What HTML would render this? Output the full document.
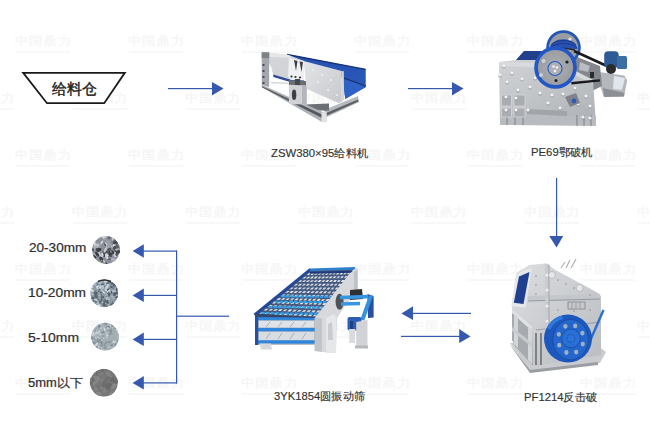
<!DOCTYPE html>
<html><head><meta charset="utf-8">
<style>
html,body{margin:0;padding:0;background:#fff;}
body{width:650px;height:430px;position:relative;overflow:hidden;font-family:"Liberation Sans",sans-serif;color:#333;}
.t{position:absolute;white-space:nowrap;line-height:1;transform-origin:0 0;}
.lbl{font-size:11px;color:#333;-webkit-text-stroke:0.15px #333;}
.sz{font-size:12px;color:#2e2e2e;-webkit-text-stroke:0.2px #2e2e2e;}
svg{position:absolute;left:0;top:0;}
.wm{position:absolute;font-size:13px;line-height:1;font-weight:bold;color:#f6f6f6;white-space:nowrap;letter-spacing:1.2px;z-index:0;transform:scaleY(0.9);transform-origin:0 0;}
.wms{position:absolute;width:54px;height:2px;background:#f8f8f8;z-index:0;}
svg{z-index:1;}
.t{z-index:2;}
</style></head><body>
<div class="wm" style="left:15.0px;top:34.5px;">中国鼎力</div><div class="wms" style="left:16.0px;top:51.0px;"></div>
<div class="wm" style="left:128.0px;top:34.5px;">中国鼎力</div><div class="wms" style="left:129.0px;top:51.0px;"></div>
<div class="wm" style="left:241.0px;top:34.5px;">中国鼎力</div><div class="wms" style="left:242.0px;top:51.0px;"></div>
<div class="wm" style="left:354.0px;top:34.5px;">中国鼎力</div><div class="wms" style="left:355.0px;top:51.0px;"></div>
<div class="wm" style="left:467.0px;top:34.5px;">中国鼎力</div><div class="wms" style="left:468.0px;top:51.0px;"></div>
<div class="wm" style="left:580.0px;top:34.5px;">中国鼎力</div><div class="wms" style="left:581.0px;top:51.0px;"></div>
<div class="wm" style="left:-41.5px;top:91.5px;">中国鼎力</div><div class="wms" style="left:-40.5px;top:108.0px;"></div>
<div class="wm" style="left:71.5px;top:91.5px;">中国鼎力</div><div class="wms" style="left:72.5px;top:108.0px;"></div>
<div class="wm" style="left:184.5px;top:91.5px;">中国鼎力</div><div class="wms" style="left:185.5px;top:108.0px;"></div>
<div class="wm" style="left:297.5px;top:91.5px;">中国鼎力</div><div class="wms" style="left:298.5px;top:108.0px;"></div>
<div class="wm" style="left:410.5px;top:91.5px;">中国鼎力</div><div class="wms" style="left:411.5px;top:108.0px;"></div>
<div class="wm" style="left:523.5px;top:91.5px;">中国鼎力</div><div class="wms" style="left:524.5px;top:108.0px;"></div>
<div class="wm" style="left:636.5px;top:91.5px;">中国鼎力</div><div class="wms" style="left:637.5px;top:108.0px;"></div>
<div class="wm" style="left:15.0px;top:148.5px;">中国鼎力</div><div class="wms" style="left:16.0px;top:165.0px;"></div>
<div class="wm" style="left:128.0px;top:148.5px;">中国鼎力</div><div class="wms" style="left:129.0px;top:165.0px;"></div>
<div class="wm" style="left:241.0px;top:148.5px;">中国鼎力</div><div class="wms" style="left:242.0px;top:165.0px;"></div>
<div class="wm" style="left:354.0px;top:148.5px;">中国鼎力</div><div class="wms" style="left:355.0px;top:165.0px;"></div>
<div class="wm" style="left:467.0px;top:148.5px;">中国鼎力</div><div class="wms" style="left:468.0px;top:165.0px;"></div>
<div class="wm" style="left:580.0px;top:148.5px;">中国鼎力</div><div class="wms" style="left:581.0px;top:165.0px;"></div>
<div class="wm" style="left:-41.5px;top:205.5px;">中国鼎力</div><div class="wms" style="left:-40.5px;top:222.0px;"></div>
<div class="wm" style="left:71.5px;top:205.5px;">中国鼎力</div><div class="wms" style="left:72.5px;top:222.0px;"></div>
<div class="wm" style="left:184.5px;top:205.5px;">中国鼎力</div><div class="wms" style="left:185.5px;top:222.0px;"></div>
<div class="wm" style="left:297.5px;top:205.5px;">中国鼎力</div><div class="wms" style="left:298.5px;top:222.0px;"></div>
<div class="wm" style="left:410.5px;top:205.5px;">中国鼎力</div><div class="wms" style="left:411.5px;top:222.0px;"></div>
<div class="wm" style="left:523.5px;top:205.5px;">中国鼎力</div><div class="wms" style="left:524.5px;top:222.0px;"></div>
<div class="wm" style="left:636.5px;top:205.5px;">中国鼎力</div><div class="wms" style="left:637.5px;top:222.0px;"></div>
<div class="wm" style="left:15.0px;top:262.5px;">中国鼎力</div><div class="wms" style="left:16.0px;top:279.0px;"></div>
<div class="wm" style="left:128.0px;top:262.5px;">中国鼎力</div><div class="wms" style="left:129.0px;top:279.0px;"></div>
<div class="wm" style="left:241.0px;top:262.5px;">中国鼎力</div><div class="wms" style="left:242.0px;top:279.0px;"></div>
<div class="wm" style="left:354.0px;top:262.5px;">中国鼎力</div><div class="wms" style="left:355.0px;top:279.0px;"></div>
<div class="wm" style="left:467.0px;top:262.5px;">中国鼎力</div><div class="wms" style="left:468.0px;top:279.0px;"></div>
<div class="wm" style="left:580.0px;top:262.5px;">中国鼎力</div><div class="wms" style="left:581.0px;top:279.0px;"></div>
<div class="wm" style="left:-41.5px;top:319.5px;">中国鼎力</div><div class="wms" style="left:-40.5px;top:336.0px;"></div>
<div class="wm" style="left:71.5px;top:319.5px;">中国鼎力</div><div class="wms" style="left:72.5px;top:336.0px;"></div>
<div class="wm" style="left:184.5px;top:319.5px;">中国鼎力</div><div class="wms" style="left:185.5px;top:336.0px;"></div>
<div class="wm" style="left:297.5px;top:319.5px;">中国鼎力</div><div class="wms" style="left:298.5px;top:336.0px;"></div>
<div class="wm" style="left:410.5px;top:319.5px;">中国鼎力</div><div class="wms" style="left:411.5px;top:336.0px;"></div>
<div class="wm" style="left:523.5px;top:319.5px;">中国鼎力</div><div class="wms" style="left:524.5px;top:336.0px;"></div>
<div class="wm" style="left:636.5px;top:319.5px;">中国鼎力</div><div class="wms" style="left:637.5px;top:336.0px;"></div>
<div class="wm" style="left:15.0px;top:376.5px;">中国鼎力</div><div class="wms" style="left:16.0px;top:393.0px;"></div>
<div class="wm" style="left:128.0px;top:376.5px;">中国鼎力</div><div class="wms" style="left:129.0px;top:393.0px;"></div>
<div class="wm" style="left:241.0px;top:376.5px;">中国鼎力</div><div class="wms" style="left:242.0px;top:393.0px;"></div>
<div class="wm" style="left:354.0px;top:376.5px;">中国鼎力</div><div class="wms" style="left:355.0px;top:393.0px;"></div>
<div class="wm" style="left:467.0px;top:376.5px;">中国鼎力</div><div class="wms" style="left:468.0px;top:393.0px;"></div>
<div class="wm" style="left:580.0px;top:376.5px;">中国鼎力</div><div class="wms" style="left:581.0px;top:393.0px;"></div>
<svg width="650" height="430" viewBox="0 0 650 430">
  <!-- hopper -->
  <polygon points="23.2,72.8 124.8,72.8 104.2,103.2 47,103.2" fill="#fff" stroke="#1a1a1a" stroke-width="1.8"/>
  <g fill="#3658ae" stroke="none">
    <!-- arrow 1 -->
    <rect x="168" y="88" width="45" height="1.2"/>
    <polygon points="212,82 223.5,88.6 212,95.6"/>
    <!-- arrow 2 -->
    <rect x="408" y="88" width="45" height="1.2"/>
    <polygon points="452,82 463.5,88.6 452,95.6"/>
    <!-- down arrow -->
    <rect x="556" y="178" width="1.2" height="59"/>
    <polygon points="549.2,236 563.2,236 556.6,247.5"/>
    <!-- left arrow -->
    <rect x="412" y="312.8" width="59" height="1.2"/>
    <polygon points="401.4,313.4 413,306.2 413,320"/>
    <!-- right arrow -->
    <rect x="401" y="335.8" width="59" height="1.2"/>
    <polygon points="459.2,329 470.5,336.4 459.2,343"/>
    <!-- bracket -->
    <rect x="176" y="250.5" width="1.2" height="133"/>
    <rect x="176" y="315.6" width="53" height="1.2"/>
    <rect x="143" y="250.5" width="34" height="1.2"/>
    <rect x="143" y="294.8" width="34" height="1.2"/>
    <rect x="143" y="338.8" width="34" height="1.2"/>
    <rect x="143" y="382.3" width="34" height="1.2"/>
    <polygon points="132.6,251.1 143.8,244.3 143.8,257.7"/>
    <polygon points="132.6,295.4 143.8,288.6 143.8,302"/>
    <polygon points="132.6,339.4 143.8,332.6 143.8,346"/>
    <polygon points="132.6,382.9 143.8,376.1 143.8,389.5"/>
  </g>

  <!-- FEEDER -->
  <g id="feeder">
    <defs>
      <linearGradient id="fplate" x1="0" y1="0" x2="1" y2="1">
        <stop offset="0" stop-color="#e4e5e7"/><stop offset="1" stop-color="#c6c8cc"/>
      </linearGradient>
      <linearGradient id="fblue" x1="0" y1="0" x2="0" y2="1">
        <stop offset="0" stop-color="#2550ad"/><stop offset="1" stop-color="#2c5dc2"/>
      </linearGradient>
    </defs>
    <!-- rear beam -->
    <polygon points="324,110 358,96 359,102 327,117" fill="#b6b9bd"/>
    <polygon points="326,113 358,99.5 358.5,101.5 327,115.5" fill="#5f6267"/>
    <polygon points="305,104.5 329,103.5 329,110.7 306,110" fill="#6c6f74"/>
    <!-- blue trough -->
    <polygon points="287,54.3 365.7,69.2 365.8,86.9 345.2,99 343,78 300,63" fill="url(#fblue)"/>
    <polygon points="343,79 365.7,85 365.8,86.9 345.2,99" fill="#2e62c4"/><line x1="344" y1="78" x2="365.5" y2="86" stroke="#1a2f66" stroke-width="1.3"/>
    <line x1="287" y1="54.5" x2="365.7" y2="69.4" stroke="#16337a" stroke-width="1.4"/>
    <!-- inner rod -->
    <line x1="271" y1="82.4" x2="290" y2="83.6" stroke="#d6d8db" stroke-width="1.5"/>
    <!-- left plate -->
    <polygon points="265.4,52.2 288.7,55 304,61 304,80 290,80 273.3,75 271,66.6 266,58" fill="#d2d4d7"/>
    <polygon points="266,52.2 288.7,55 292,58 269,57" fill="#e6e7e9"/>
    <polygon points="273.3,74.5 290,79.5 304,80.5 304,82.5 290,82 273.3,77" fill="#2c4d96"/>
    <!-- left post -->
    <polygon points="261.7,52.2 269.2,52.6 269.2,87 261.8,85" fill="#a3a6ab"/>
    <polygon points="261.7,52.2 269.2,52.6 269.2,58 261.7,58" fill="#7f8287"/>
    <g fill="#4a4d52"><rect x="262.5" y="64" width="2" height="2"/><rect x="262.5" y="70" width="2" height="2"/><rect x="262.5" y="76" width="2" height="2"/><rect x="262.5" y="82" width="2" height="2"/></g>
    <!-- brackets -->
    <polygon points="289,58 304,61 304,80 291,80 288,76" fill="#eef0f2"/>
    <polygon points="294,60 297.5,61 296,71" fill="#3c3f44"/>
    <polygon points="299.5,61.5 303,62 301.5,72" fill="#3c3f44"/>
    <circle cx="291.5" cy="76.5" r="1.1" fill="#333"/><circle cx="295.5" cy="77" r="1.1" fill="#333"/><circle cx="300" cy="77.5" r="1.1" fill="#333"/>
    <!-- front beam -->
    <polygon points="261.8,84.8 323.9,112.5 326.4,112 326.4,122 321.5,121.8 261.8,87.3" fill="#aeb1b5"/>
    <polygon points="262,86.2 322,114.5 322,118 262,87.3" fill="#56595e"/>
    <polygon points="321.5,112.5 326.4,112 326.4,122 321.5,121.8" fill="#e2e3e5"/>
    <!-- pillar -->
    <polygon points="289,80 306.7,81 306.7,86.5 289,86" fill="#6a6d72"/><rect x="295" y="79" width="5" height="7" fill="#45484d"/>
    <polygon points="288.8,84.8 306.7,85.5 306.7,104.5 289,104" fill="#d0d2d5"/>
    <polygon points="302,85.5 306.7,85.5 306.7,104.5 302,104.3" fill="#b3b6ba"/>
    <ellipse cx="294.1" cy="94.7" rx="2.2" ry="5.3" fill="#3c3f44"/>
    <!-- side plate -->
    <polygon points="303.6,61 341.7,70.9 341.7,102 338.5,102.9 306.7,89" fill="url(#fplate)"/>
    <polygon points="341.7,70.9 343.8,71.3 344,99.5 341.7,102" fill="#d3d5d8"/>
    <g fill="#f4f4f5"><circle cx="313" cy="70" r="0.9"/><circle cx="322" cy="75" r="0.9"/><circle cx="331" cy="80" r="0.9"/><circle cx="318" cy="82" r="0.9"/><circle cx="328" cy="90" r="0.9"/><circle cx="337" cy="95" r="0.9"/></g>
  </g>
  <!-- JAW CRUSHER -->
  <g id="jaw">
    <defs>
      <linearGradient id="jbody" x1="0" y1="0" x2="0.6" y2="1">
        <stop offset="0" stop-color="#d3d5d8"/><stop offset="0.6" stop-color="#c2c5c8"/><stop offset="1" stop-color="#b2b5b9"/>
      </linearGradient>
      <radialGradient id="jfly" cx="0.5" cy="0.5" r="0.5">
        <stop offset="0" stop-color="#adafb2"/><stop offset="1" stop-color="#9a9da1"/>
      </radialGradient>
    </defs>
    <!-- motor base -->
    <polygon points="598.6,72 624.4,75.6 627.2,80.4 624,96.5 604,97 600,86" fill="#b4b7bb"/>
    <polygon points="603,88 624.5,93 624,96.5 604,97" fill="#8c9095"/>
    <polygon points="614,76 625,78 622,90 613,89" fill="#dfe6ee"/>
    <!-- structure between flywheel and motor -->
    <polygon points="572,55 600,66 602,86 590,92 575,85" fill="#84878c"/>
    <rect x="582" y="66" width="5" height="5" fill="#2b2c2f"/><rect x="590" y="72" width="4" height="6" fill="#2b2c2f"/>
    <polygon points="580,62 590,66 588,72 579,70" fill="#b9bcc0"/>
    <!-- body -->
    <polygon points="499,62 516,60 524,51 545,51 548,60 577,72 593,80 596,125 500,124.5" fill="url(#jbody)"/>
    <polygon points="516,60 524,51 545,51 548,60" fill="#22408e"/>
    <polygon points="499,62 560,63 593,80 593,84 560,68 499,66" fill="#d9dadd"/>
    <!-- lower ribs area -->
    <polygon points="500,114 596,116 596,126 500,125" fill="#b8bbbf"/>
    <g stroke="#7e8186" stroke-width="1">
      <line x1="507" y1="113" x2="507" y2="125"/><line x1="515" y1="113" x2="515" y2="125"/><line x1="523" y1="114" x2="523" y2="125"/>
      <line x1="577" y1="115" x2="577" y2="126"/><line x1="584" y1="115" x2="584" y2="126"/><line x1="591" y1="115" x2="591" y2="126"/>
    </g>
    <polygon points="527,109 567,111 567,116 527,114" fill="#a1a4a8"/>
    <g fill="#a9acb0" stroke="#d6d8da" stroke-width="0.8">
      <rect x="501.5" y="95" width="10" height="11"/><rect x="514" y="95" width="11" height="11"/>
      <rect x="501.5" y="108" width="10" height="9"/><rect x="514" y="108" width="11" height="9"/>
    </g>
    <g><circle cx="504" cy="66.7" r="1.7" fill="#8e9195"/><circle cx="504" cy="66" r="1.6" fill="#f4f4f5"/><circle cx="512" cy="73.7" r="1.7" fill="#8e9195"/><circle cx="512" cy="73" r="1.6" fill="#f4f4f5"/><circle cx="522" cy="79.7" r="1.7" fill="#8e9195"/><circle cx="522" cy="79" r="1.6" fill="#f4f4f5"/><circle cx="507" cy="82.7" r="1.7" fill="#8e9195"/><circle cx="507" cy="82" r="1.6" fill="#f4f4f5"/><circle cx="530" cy="87.7" r="1.7" fill="#8e9195"/><circle cx="530" cy="87" r="1.6" fill="#f4f4f5"/><circle cx="518" cy="90.7" r="1.7" fill="#8e9195"/><circle cx="518" cy="90" r="1.6" fill="#f4f4f5"/><circle cx="540" cy="93.7" r="1.7" fill="#8e9195"/><circle cx="540" cy="93" r="1.6" fill="#f4f4f5"/><circle cx="552" cy="95.7" r="1.7" fill="#8e9195"/><circle cx="552" cy="95" r="1.6" fill="#f4f4f5"/><circle cx="563" cy="94.7" r="1.7" fill="#8e9195"/><circle cx="563" cy="94" r="1.6" fill="#f4f4f5"/><circle cx="575" cy="88.7" r="1.7" fill="#8e9195"/><circle cx="575" cy="88" r="1.6" fill="#f4f4f5"/><circle cx="586" cy="96.7" r="1.7" fill="#8e9195"/><circle cx="586" cy="96" r="1.6" fill="#f4f4f5"/><circle cx="590" cy="106.7" r="1.7" fill="#8e9195"/><circle cx="590" cy="106" r="1.6" fill="#f4f4f5"/><circle cx="578" cy="104.7" r="1.7" fill="#8e9195"/><circle cx="578" cy="104" r="1.6" fill="#f4f4f5"/><circle cx="506" cy="97.7" r="1.7" fill="#8e9195"/><circle cx="506" cy="97" r="1.6" fill="#f4f4f5"/><circle cx="516" cy="98.7" r="1.7" fill="#8e9195"/><circle cx="516" cy="98" r="1.6" fill="#f4f4f5"/><circle cx="506" cy="110.7" r="1.7" fill="#8e9195"/><circle cx="506" cy="110" r="1.6" fill="#f4f4f5"/><circle cx="516" cy="110.7" r="1.7" fill="#8e9195"/><circle cx="516" cy="110" r="1.6" fill="#f4f4f5"/><circle cx="528" cy="110.7" r="1.7" fill="#8e9195"/><circle cx="528" cy="110" r="1.6" fill="#f4f4f5"/><circle cx="548" cy="103.7" r="1.7" fill="#8e9195"/><circle cx="548" cy="103" r="1.6" fill="#f4f4f5"/><circle cx="560" cy="108.7" r="1.7" fill="#8e9195"/><circle cx="560" cy="108" r="1.6" fill="#f4f4f5"/><circle cx="583" cy="117.7" r="1.7" fill="#8e9195"/><circle cx="583" cy="117" r="1.6" fill="#f4f4f5"/><circle cx="590" cy="118.7" r="1.7" fill="#8e9195"/><circle cx="590" cy="118" r="1.6" fill="#f4f4f5"/><circle cx="535" cy="78.7" r="1.7" fill="#8e9195"/><circle cx="535" cy="78" r="1.6" fill="#f4f4f5"/><circle cx="500" cy="75.7" r="1.7" fill="#8e9195"/><circle cx="500" cy="75" r="1.6" fill="#f4f4f5"/></g>
    <polygon points="565,97 576,93 580,103 570,107" fill="#7f8388"/>
    <circle cx="574" cy="101" r="2.4" fill="#2a5bc0"/>
    <!-- rear flywheel -->
    <circle cx="563.5" cy="47.5" r="17.3" fill="#2456b8"/>
    <circle cx="563.5" cy="47.5" r="14.5" fill="#9a9da2"/>
    <path d="M549.5,49 C551,36 576,36 577.5,49 Z" fill="#2a50b2"/><path d="M551,45 C556,39 571,39 576,45 M550,48 C555,42 572,42 577,48" stroke="#183a8c" stroke-width="1" fill="none"/>
    <circle cx="570" cy="39" r="1.6" fill="#e8e8ea"/>
    <!-- belts -->
    <path d="M574,51 L606.3,65.8" stroke="#1b1b1d" stroke-width="2.6" fill="none"/>
    <path d="M571.4,83.2 L600,80.4" stroke="#1b1b1d" stroke-width="2.4" fill="none"/>
    <path d="M536,58 Q552,44 575,50" stroke="#2a2a2c" stroke-width="1.4" fill="none"/>
    <!-- motor -->
    <rect x="604.2" y="51.2" width="14.5" height="16.5" rx="4" fill="#2e5b95"/>
    <rect x="617" y="56" width="10" height="13" rx="1.5" fill="#3b6fa3"/>
    <circle cx="611" cy="69" r="5" fill="#2a2b2e"/>
    <!-- front flywheel -->
    <circle cx="555.5" cy="67.5" r="21.3" fill="#2257c6"/>
    <circle cx="555.5" cy="67.5" r="17.6" fill="url(#jfly)"/>
    <circle cx="555" cy="68.5" r="7" fill="#aeb0b3" stroke="#2257c6" stroke-width="1.1"/>
    <circle cx="553.5" cy="66.5" r="1.3" fill="#f2f2f2"/><circle cx="557" cy="67.5" r="1.3" fill="#f2f2f2"/><circle cx="555" cy="71" r="1.3" fill="#f2f2f2"/>
    <circle cx="543.5" cy="61" r="2.5" fill="#cfd0d2" stroke="#8a8d91" stroke-width="0.6"/>
    <circle cx="541" cy="75" r="2" fill="#cfd0d2"/><circle cx="567" cy="62" r="1.6" fill="#1d1d1f"/><circle cx="556" cy="80.5" r="1.5" fill="#1d1d1f"/>
  </g>
  <!-- IMPACT CRUSHER -->
  <g id="impact">
    <defs>
      <linearGradient id="ibody" x1="0" y1="0" x2="1" y2="1">
        <stop offset="0" stop-color="#dcdee0"/><stop offset="1" stop-color="#b9bcc0"/>
      </linearGradient>
      <radialGradient id="ifly" cx="0.55" cy="0.5" r="0.5">
        <stop offset="0" stop-color="#3a88e2"/><stop offset="1" stop-color="#2468cc"/>
      </radialGradient>
    </defs>
    <!-- base -->
    <polygon points="510,343 530,371 600,363 606,352 590,340" fill="#c9cbce"/>
    <polygon points="512,347 530,370 598,362 598,365 530,373 510,345" fill="#9a9da1"/>
    <!-- body -->
    <polygon points="512,307 516,273 529.5,265 546.5,263.2 554.2,269.3 597.3,292.4 601,296 601,355 535,366 515,345" fill="url(#ibody)"/>
    <polygon points="512,309 532,329 533,366 515,346 512,340" fill="#a7aaae"/>
    <polygon points="512,309 532,327 532,331 512,313" fill="#e2e3e5"/>
    <polygon points="514,313 518,317 518,348 514,344" fill="#d3d5d8"/>
    <polygon points="528,326 532,329 532,364 528,360" fill="#d3d5d8"/>
    <polygon points="512,327 532,343 532,347 512,331" fill="#c9cbce"/>
    <g fill="#7d8085"><rect x="535" y="333" width="2" height="32"/><rect x="540" y="333" width="2" height="32"/></g>
    <polygon points="528,296 600,294 600,299 528,301" fill="#c4c7cb"/>
    <line x1="528" y1="301" x2="600" y2="299" stroke="#8e9196" stroke-width="0.9"/>
    <line x1="536" y1="330" x2="600" y2="322" stroke="#9b9ea2" stroke-width="1"/>
    <rect x="545" y="264" width="4" height="80" fill="#c9cbce"/>
    <line x1="549" y1="265" x2="549" y2="344" stroke="#9a9da1" stroke-width="0.8"/>
    <g fill="#eeeff0">
      <circle cx="547" cy="275" r="1.6"/><circle cx="547" cy="290" r="1.6"/><circle cx="547" cy="306" r="1.6"/><circle cx="547" cy="321" r="1.6"/>
    </g>
    <g fill="#8f9297">
      <circle cx="536" cy="276" r="0.8"/><circle cx="536" cy="285" r="0.8"/><circle cx="536" cy="294" r="0.8"/>
      <circle cx="558" cy="280" r="0.8"/><circle cx="566" cy="284" r="0.8"/><circle cx="574" cy="288" r="0.8"/><circle cx="590" cy="295" r="0.8"/>
      <circle cx="558" cy="310" r="0.8"/><circle cx="574" cy="311" r="0.8"/><circle cx="590" cy="310" r="0.8"/>
    </g>
    <circle cx="579.6" cy="288" r="3.5" fill="#e6e7e9" stroke="#a3a6aa" stroke-width="0.6"/>
    <rect x="568" y="302" width="17" height="7" fill="#c6c8cb" stroke="#7f8287" stroke-width="0.8"/>
    <g stroke="#8a8d91" stroke-width="0.7"><line x1="572" y1="303" x2="572" y2="308"/><line x1="576" y1="303" x2="576" y2="308"/><line x1="580" y1="303" x2="580" y2="308"/></g>
    <path d="M561,268 L565,262 M566,268 L570,260 M571,268 L576,259" stroke="#a9acb0" stroke-width="1.1" fill="none"/><circle cx="552" cy="275" r="3.5" fill="#e6e7e9" stroke="#a3a6aa" stroke-width="0.6"/>
    <!-- window -->
    <polygon points="516.4,273.6 531.9,267.9 525.4,307.8 511.2,306.2" fill="#e6e7e9"/>
    <polygon points="519,276.5 529.5,272 523.5,304 513.8,302.8" fill="#1f3f8f"/>
    <!-- arm -->
    <line x1="590" y1="341" x2="603.5" y2="310" stroke="#2a6fd0" stroke-width="2.4"/>
    <!-- flywheel -->
    <circle cx="568" cy="338.6" r="24" fill="#1c58bd"/>
    <path d="M547,328 A23,23 0 0 1 562,315.5 L563,319 A20,20 0 0 0 550,330 Z" fill="#2f78dc"/>
    <ellipse cx="570.6" cy="339.6" rx="17.8" ry="20.2" fill="#2466cc" stroke="#1a4ea6" stroke-width="1"/>
    <ellipse cx="582.8" cy="344.1" rx="2.1" ry="2.4" fill="#9fb0c4"/><ellipse cx="576.2" cy="352.1" rx="2.1" ry="2.4" fill="#9fb0c4"/><ellipse cx="566.4" cy="352.5" rx="2.1" ry="2.4" fill="#9fb0c4"/><ellipse cx="559.2" cy="345.2" rx="2.1" ry="2.4" fill="#9fb0c4"/><ellipse cx="558.8" cy="334.3" rx="2.1" ry="2.4" fill="#9fb0c4"/><ellipse cx="565.4" cy="326.3" rx="2.1" ry="2.4" fill="#9fb0c4"/><ellipse cx="575.2" cy="325.9" rx="2.1" ry="2.4" fill="#9fb0c4"/><ellipse cx="582.4" cy="333.2" rx="2.1" ry="2.4" fill="#9fb0c4"/>
    <circle cx="571" cy="338.3" r="9.4" fill="#2a6fd6" stroke="#1a4ea6" stroke-width="0.9"/>
    <circle cx="571" cy="338.3" r="4" fill="#2d74da" stroke="#1d55b0" stroke-width="0.7"/>
  </g>
  </g>
  </g>

  <!-- VIBRATING SCREEN -->
  <g id="screen">
    <!-- lower decks -->
    <polygon points="256,314 316,318 316,345 256,345" fill="#b9c0c9"/>
    <polygon points="259,321 314,321 314,327.5 259,327.5" fill="#dfe2e6"/>
    <polygon points="259,332 314,332 314,340 259,340" fill="#d9dce0"/>
    <g stroke="#9aa3ae" stroke-width="0.8">
      <line x1="270" y1="322" x2="266" y2="327"/><line x1="282" y1="322" x2="278" y2="327"/><line x1="294" y1="322" x2="290" y2="327"/><line x1="306" y1="322" x2="302" y2="327"/>
      <line x1="270" y1="333" x2="266" y2="339"/><line x1="282" y1="333" x2="278" y2="339"/><line x1="294" y1="333" x2="290" y2="339"/><line x1="306" y1="333" x2="302" y2="339"/>
    </g>
    <rect x="255.5" y="316.8" width="59" height="3.4" fill="#2f86da"/>
    <rect x="256" y="327.9" width="59" height="3.4" fill="#2f86da"/>
    <rect x="256" y="340.3" width="59" height="3.4" fill="#2f86da"/>
    <rect x="255" y="313" width="3.2" height="32" fill="#27509e"/>
    <polygon points="259.7,343.5 270.8,343.5 272,349.5 261,349.5" fill="#d6d8db"/>
    <!-- top deck -->
    <polygon points="310.5,269.8 354,268.5 315.5,318 255.5,314" fill="#465a80"/>
    <polygon points="308.9,273.2 311.0,273.1 308.8,275.0 306.6,275.0" fill="#eef0f3"/>
    <polygon points="312.5,273.1 314.6,273.1 312.5,274.9 310.3,275.0" fill="#eef0f3"/>
    <polygon points="316.1,273.0 318.2,273.0 316.1,274.9 313.9,274.9" fill="#c9ced6"/>
    <polygon points="319.7,273.0 321.8,272.9 319.8,274.8 317.6,274.8" fill="#d8dce2"/>
    <polygon points="323.3,272.9 325.4,272.8 323.5,274.7 321.3,274.8" fill="#dfe3e8"/>
    <polygon points="326.9,272.8 329.0,272.8 327.1,274.7 324.9,274.7" fill="#dfe3e8"/>
    <polygon points="330.5,272.7 332.7,272.7 330.8,274.6 328.6,274.6" fill="#d8dce2"/>
    <polygon points="334.1,272.6 336.3,272.6 334.5,274.5 332.3,274.6" fill="#c9ced6"/>
    <polygon points="337.7,272.6 339.9,272.5 338.1,274.5 335.9,274.5" fill="#eef0f3"/>
    <polygon points="341.3,272.5 343.5,272.4 341.8,274.4 339.6,274.4" fill="#eef0f3"/>
    <polygon points="344.9,272.4 347.1,272.4 345.4,274.3 343.2,274.4" fill="#d8dce2"/>
    <polygon points="348.5,272.3 350.7,272.3 349.1,274.3 346.9,274.3" fill="#d8dce2"/>
    <polygon points="304.5,276.7 306.8,276.7 304.6,278.6 302.3,278.6" fill="#d8dce2"/>
    <polygon points="308.3,276.7 310.5,276.7 308.3,278.5 306.1,278.5" fill="#eef0f3"/>
    <polygon points="312.0,276.6 314.2,276.6 312.1,278.5 309.9,278.5" fill="#eef0f3"/>
    <polygon points="315.7,276.6 317.9,276.5 315.9,278.4 313.6,278.5" fill="#eef0f3"/>
    <polygon points="319.4,276.5 321.6,276.5 319.7,278.4 317.4,278.4" fill="#d8dce2"/>
    <polygon points="323.1,276.5 325.4,276.4 323.4,278.4 321.2,278.4" fill="#dfe3e8"/>
    <polygon points="326.8,276.4 329.1,276.4 327.2,278.3 324.9,278.3" fill="#dfe3e8"/>
    <polygon points="330.6,276.4 332.8,276.3 331.0,278.3 328.7,278.3" fill="#eef0f3"/>
    <polygon points="334.3,276.3 336.5,276.3 334.8,278.2 332.5,278.3" fill="#dfe3e8"/>
    <polygon points="338.0,276.3 340.2,276.2 338.5,278.2 336.3,278.2" fill="#c9ced6"/>
    <polygon points="341.7,276.2 343.9,276.2 342.3,278.1 340.0,278.2" fill="#dfe3e8"/>
    <polygon points="345.4,276.1 347.7,276.1 346.1,278.1 343.8,278.1" fill="#c9ced6"/>
    <polygon points="300.2,280.3 302.5,280.3 300.3,282.1 298.0,282.1" fill="#d8dce2"/>
    <polygon points="304.1,280.3 306.4,280.2 304.2,282.1 301.9,282.1" fill="#d8dce2"/>
    <polygon points="307.9,280.2 310.2,280.2 308.1,282.1 305.8,282.1" fill="#d8dce2"/>
    <polygon points="311.7,280.2 314.0,280.2 312.0,282.1 309.6,282.1" fill="#d8dce2"/>
    <polygon points="315.5,280.2 317.8,280.1 315.9,282.1 313.5,282.1" fill="#d8dce2"/>
    <polygon points="319.4,280.1 321.7,280.1 319.7,282.0 317.4,282.0" fill="#eef0f3"/>
    <polygon points="323.2,280.1 325.5,280.1 323.6,282.0 321.3,282.0" fill="#c9ced6"/>
    <polygon points="327.0,280.1 329.3,280.1 327.5,282.0 325.2,282.0" fill="#dfe3e8"/>
    <polygon points="330.9,280.0 333.2,280.0 331.4,282.0 329.1,282.0" fill="#dfe3e8"/>
    <polygon points="334.7,280.0 337.0,280.0 335.3,282.0 333.0,282.0" fill="#eef0f3"/>
    <polygon points="338.5,280.0 340.8,280.0 339.2,281.9 336.8,282.0" fill="#d8dce2"/>
    <polygon points="342.3,280.0 344.6,279.9 343.1,281.9 340.7,281.9" fill="#eef0f3"/>
    <polygon points="295.9,283.8 298.3,283.8 296.1,285.7 293.7,285.7" fill="#c9ced6"/>
    <polygon points="299.9,283.8 302.2,283.8 300.1,285.7 297.7,285.7" fill="#d8dce2"/>
    <polygon points="303.8,283.8 306.2,283.8 304.1,285.7 301.7,285.7" fill="#c9ced6"/>
    <polygon points="307.7,283.8 310.1,283.8 308.1,285.7 305.7,285.7" fill="#d8dce2"/>
    <polygon points="311.7,283.8 314.0,283.8 312.1,285.7 309.7,285.7" fill="#d8dce2"/>
    <polygon points="315.6,283.8 318.0,283.8 316.1,285.7 313.7,285.7" fill="#c9ced6"/>
    <polygon points="319.6,283.8 321.9,283.8 320.1,285.7 317.7,285.7" fill="#d8dce2"/>
    <polygon points="323.5,283.8 325.9,283.8 324.1,285.7 321.7,285.7" fill="#eef0f3"/>
    <polygon points="327.4,283.8 329.8,283.8 328.1,285.7 325.7,285.7" fill="#c9ced6"/>
    <polygon points="331.4,283.8 333.7,283.8 332.0,285.7 329.6,285.7" fill="#dfe3e8"/>
    <polygon points="335.3,283.8 337.7,283.8 336.0,285.8 333.6,285.7" fill="#c9ced6"/>
    <polygon points="339.2,283.8 341.6,283.8 340.0,285.8 337.6,285.8" fill="#eef0f3"/>
    <polygon points="291.6,287.4 294.0,287.4 291.8,289.2 289.4,289.2" fill="#c9ced6"/>
    <polygon points="295.7,287.4 298.1,287.4 295.9,289.3 293.5,289.3" fill="#dfe3e8"/>
    <polygon points="299.7,287.4 302.1,287.4 300.0,289.3 297.6,289.3" fill="#eef0f3"/>
    <polygon points="303.8,287.4 306.2,287.4 304.2,289.3 301.7,289.3" fill="#c9ced6"/>
    <polygon points="307.8,287.5 310.2,287.5 308.3,289.4 305.8,289.3" fill="#c9ced6"/>
    <polygon points="311.9,287.5 314.3,287.5 312.4,289.4 309.9,289.4" fill="#dfe3e8"/>
    <polygon points="315.9,287.5 318.3,287.5 316.5,289.4 314.0,289.4" fill="#dfe3e8"/>
    <polygon points="320.0,287.5 322.4,287.5 320.6,289.5 318.1,289.4" fill="#d8dce2"/>
    <polygon points="324.0,287.5 326.4,287.5 324.7,289.5 322.2,289.5" fill="#d8dce2"/>
    <polygon points="328.1,287.5 330.5,287.6 328.8,289.5 326.3,289.5" fill="#dfe3e8"/>
    <polygon points="332.1,287.6 334.5,287.6 332.9,289.6 330.4,289.5" fill="#c9ced6"/>
    <polygon points="336.2,287.6 338.6,287.6 337.0,289.6 334.6,289.6" fill="#dfe3e8"/>
    <polygon points="287.3,290.9 289.8,291.0 287.6,292.8 285.1,292.8" fill="#d8dce2"/>
    <polygon points="291.5,291.0 294.0,291.0 291.8,292.9 289.3,292.8" fill="#eef0f3"/>
    <polygon points="295.6,291.0 298.1,291.0 296.0,292.9 293.5,292.9" fill="#dfe3e8"/>
    <polygon points="299.8,291.1 302.3,291.1 300.2,293.0 297.7,292.9" fill="#c9ced6"/>
    <polygon points="303.9,291.1 306.4,291.1 304.5,293.0 301.9,293.0" fill="#d8dce2"/>
    <polygon points="308.1,291.1 310.6,291.2 308.7,293.1 306.2,293.0" fill="#d8dce2"/>
    <polygon points="312.3,291.2 314.8,291.2 312.9,293.1 310.4,293.1" fill="#dfe3e8"/>
    <polygon points="316.4,291.2 318.9,291.3 317.1,293.2 314.6,293.2" fill="#dfe3e8"/>
    <polygon points="320.6,291.3 323.1,291.3 321.3,293.2 318.8,293.2" fill="#dfe3e8"/>
    <polygon points="324.7,291.3 327.2,291.3 325.6,293.3 323.0,293.3" fill="#d8dce2"/>
    <polygon points="328.9,291.4 331.4,291.4 329.8,293.4 327.2,293.3" fill="#c9ced6"/>
    <polygon points="333.1,291.4 335.6,291.4 334.0,293.4 331.5,293.4" fill="#c9ced6"/>
    <polygon points="283.0,294.5 285.6,294.5 283.3,296.4 280.7,296.3" fill="#eef0f3"/>
    <polygon points="287.3,294.5 289.8,294.6 287.7,296.4 285.1,296.4" fill="#dfe3e8"/>
    <polygon points="291.5,294.6 294.1,294.6 292.0,296.5 289.4,296.5" fill="#c9ced6"/>
    <polygon points="295.8,294.7 298.4,294.7 296.3,296.6 293.7,296.6" fill="#dfe3e8"/>
    <polygon points="300.1,294.7 302.6,294.8 300.7,296.7 298.1,296.6" fill="#dfe3e8"/>
    <polygon points="304.3,294.8 306.9,294.8 305.0,296.8 302.4,296.7" fill="#dfe3e8"/>
    <polygon points="308.6,294.9 311.2,294.9 309.3,296.8 306.7,296.8" fill="#dfe3e8"/>
    <polygon points="312.9,294.9 315.5,295.0 313.7,296.9 311.1,296.9" fill="#eef0f3"/>
    <polygon points="317.2,295.0 319.7,295.1 318.0,297.0 315.4,297.0" fill="#d8dce2"/>
    <polygon points="321.4,295.1 324.0,295.1 322.3,297.1 319.7,297.0" fill="#c9ced6"/>
    <polygon points="325.7,295.1 328.3,295.2 326.6,297.2 324.0,297.1" fill="#c9ced6"/>
    <polygon points="330.0,295.2 332.5,295.3 331.0,297.2 328.4,297.2" fill="#eef0f3"/>
    <polygon points="278.7,298.0 281.3,298.1 279.1,299.9 276.4,299.9" fill="#dfe3e8"/>
    <polygon points="283.1,298.1 285.7,298.2 283.5,300.0 280.9,300.0" fill="#c9ced6"/>
    <polygon points="287.4,298.2 290.1,298.3 288.0,300.1 285.3,300.1" fill="#c9ced6"/>
    <polygon points="291.8,298.3 294.5,298.3 292.4,300.2 289.8,300.2" fill="#c9ced6"/>
    <polygon points="296.2,298.4 298.8,298.4 296.9,300.3 294.2,300.3" fill="#eef0f3"/>
    <polygon points="300.6,298.5 303.2,298.5 301.3,300.4 298.6,300.4" fill="#d8dce2"/>
    <polygon points="305.0,298.6 307.6,298.6 305.7,300.6 303.1,300.5" fill="#d8dce2"/>
    <polygon points="309.4,298.7 312.0,298.7 310.2,300.7 307.5,300.6" fill="#d8dce2"/>
    <polygon points="313.7,298.8 316.4,298.8 314.6,300.8 312.0,300.7" fill="#d8dce2"/>
    <polygon points="318.1,298.8 320.8,298.9 319.1,300.9 316.4,300.8" fill="#dfe3e8"/>
    <polygon points="322.5,298.9 325.1,299.0 323.5,301.0 320.8,300.9" fill="#c9ced6"/>
    <polygon points="326.9,299.0 329.5,299.1 328.0,301.1 325.3,301.0" fill="#d8dce2"/>
    <polygon points="274.4,301.6 277.1,301.6 274.9,303.5 272.1,303.4" fill="#eef0f3"/>
    <polygon points="278.9,301.7 281.6,301.8 279.4,303.6 276.7,303.5" fill="#c9ced6"/>
    <polygon points="283.4,301.8 286.1,301.9 284.0,303.7 281.2,303.7" fill="#d8dce2"/>
    <polygon points="287.8,301.9 290.5,302.0 288.5,303.9 285.8,303.8" fill="#c9ced6"/>
    <polygon points="292.3,302.0 295.0,302.1 293.1,304.0 290.3,303.9" fill="#c9ced6"/>
    <polygon points="296.8,302.1 299.5,302.2 297.6,304.1 294.9,304.1" fill="#c9ced6"/>
    <polygon points="301.3,302.3 304.0,302.3 302.2,304.3 299.4,304.2" fill="#dfe3e8"/>
    <polygon points="305.8,302.4 308.5,302.4 306.7,304.4 304.0,304.3" fill="#d8dce2"/>
    <polygon points="310.3,302.5 313.0,302.6 311.3,304.5 308.5,304.4" fill="#c9ced6"/>
    <polygon points="314.8,302.6 317.5,302.7 315.8,304.6 313.1,304.6" fill="#dfe3e8"/>
    <polygon points="319.3,302.7 322.0,302.8 320.4,304.8 317.6,304.7" fill="#d8dce2"/>
    <polygon points="323.8,302.8 326.5,302.9 324.9,304.9 322.2,304.8" fill="#eef0f3"/>
    <polygon points="270.1,305.1 272.8,305.2 270.6,307.0 267.8,307.0" fill="#dfe3e8"/>
    <polygon points="274.7,305.3 277.4,305.3 275.3,307.2 272.5,307.1" fill="#c9ced6"/>
    <polygon points="279.3,305.4 282.0,305.5 279.9,307.4 277.1,307.3" fill="#d8dce2"/>
    <polygon points="283.9,305.5 286.6,305.6 284.6,307.5 281.8,307.4" fill="#c9ced6"/>
    <polygon points="288.5,305.7 291.2,305.8 289.3,307.7 286.5,307.6" fill="#c9ced6"/>
    <polygon points="293.1,305.8 295.8,305.9 293.9,307.8 291.1,307.7" fill="#c9ced6"/>
    <polygon points="297.7,306.0 300.5,306.0 298.6,308.0 295.8,307.9" fill="#d8dce2"/>
    <polygon points="302.3,306.1 305.1,306.2 303.3,308.1 300.5,308.0" fill="#dfe3e8"/>
    <polygon points="306.9,306.2 309.7,306.3 307.9,308.3 305.1,308.2" fill="#dfe3e8"/>
    <polygon points="311.5,306.4 314.3,306.5 312.6,308.4 309.8,308.3" fill="#dfe3e8"/>
    <polygon points="316.1,306.5 318.9,306.6 317.2,308.6 314.4,308.5" fill="#c9ced6"/>
    <polygon points="320.7,306.7 323.5,306.7 321.9,308.7 319.1,308.6" fill="#c9ced6"/>
    <polygon points="265.7,308.7 268.6,308.8 266.4,310.6 263.5,310.5" fill="#d8dce2"/>
    <polygon points="270.5,308.8 273.3,308.9 271.1,310.8 268.3,310.7" fill="#c9ced6"/>
    <polygon points="275.2,309.0 278.0,309.1 275.9,311.0 273.1,310.9" fill="#c9ced6"/>
    <polygon points="279.9,309.2 282.7,309.3 280.7,311.1 277.8,311.0" fill="#eef0f3"/>
    <polygon points="284.6,309.3 287.4,309.4 285.5,311.3 282.6,311.2" fill="#c9ced6"/>
    <polygon points="289.3,309.5 292.2,309.6 290.2,311.5 287.4,311.4" fill="#eef0f3"/>
    <polygon points="294.0,309.6 296.9,309.7 295.0,311.7 292.1,311.6" fill="#c9ced6"/>
    <polygon points="298.8,309.8 301.6,309.9 299.8,311.8 296.9,311.7" fill="#c9ced6"/>
    <polygon points="303.5,310.0 306.3,310.1 304.6,312.0 301.7,311.9" fill="#c9ced6"/>
    <polygon points="308.2,310.1 311.0,310.2 309.3,312.2 306.5,312.1" fill="#c9ced6"/>
    <polygon points="312.9,310.3 315.7,310.4 314.1,312.4 311.2,312.3" fill="#d8dce2"/>
    <polygon points="317.6,310.5 320.5,310.6 318.9,312.6 316.0,312.5" fill="#dfe3e8"/>
    <polygon points="261.4,312.2 264.3,312.3 262.1,314.2 259.2,314.0" fill="#dfe3e8"/>
    <polygon points="266.3,312.4 269.2,312.5 267.0,314.4 264.1,314.3" fill="#eef0f3"/>
    <polygon points="271.1,312.6 274.0,312.7 271.9,314.6 269.0,314.5" fill="#c9ced6"/>
    <polygon points="275.9,312.8 278.8,312.9 276.8,314.8 273.8,314.7" fill="#eef0f3"/>
    <polygon points="280.7,313.0 283.6,313.1 281.7,315.0 278.7,314.9" fill="#c9ced6"/>
    <polygon points="285.6,313.1 288.5,313.3 286.5,315.2 283.6,315.1" fill="#eef0f3"/>
    <polygon points="290.4,313.3 293.3,313.5 291.4,315.4 288.5,315.3" fill="#c9ced6"/>
    <polygon points="295.2,313.5 298.1,313.6 296.3,315.6 293.4,315.5" fill="#eef0f3"/>
    <polygon points="300.1,313.7 303.0,313.8 301.2,315.8 298.3,315.7" fill="#d8dce2"/>
    <polygon points="304.9,313.9 307.8,314.0 306.1,316.0 303.2,315.9" fill="#dfe3e8"/>
    <polygon points="309.7,314.1 312.6,314.2 311.0,316.2 308.0,316.1" fill="#dfe3e8"/>
    <polygon points="314.5,314.3 317.4,314.4 315.9,316.4 312.9,316.3" fill="#c9ced6"/>
    <line x1="281.3" y1="296.3" x2="332.1" y2="296.8" stroke="#2f9fe8" stroke-width="2.1" stroke-dasharray="3.6 1.2"/>
    <line x1="274.9" y1="301.7" x2="327.7" y2="302.2" stroke="#2f9fe8" stroke-width="2.1" stroke-dasharray="3.6 1.2"/>
    <line x1="268.6" y1="307.0" x2="323.4" y2="307.5" stroke="#2f9fe8" stroke-width="2.1" stroke-dasharray="3.6 1.2"/>
    <line x1="261.3" y1="313.2" x2="318.3" y2="313.7" stroke="#2f9fe8" stroke-width="2.1" stroke-dasharray="3.6 1.2"/>
    <polygon points="256,313.5 316,317.2 316,317.8 256,317" fill="#34466a"/>
    <line x1="310" y1="272.8" x2="353" y2="271.8" stroke="#1f3a7a" stroke-width="2"/>
    <line x1="254.5" y1="315" x2="310.5" y2="269.3" stroke="#24489a" stroke-width="3"/>
    <line x1="310" y1="269.8" x2="355" y2="268.4" stroke="#2f7fd0" stroke-width="2.6"/>
    <!-- side plate -->
    <polygon points="348.3,275.2 356,267.6 358,269 358,291 345,306 337,318 336,353 322,352 314.9,317.8" fill="#d7d9dc"/>
    <polygon points="314.9,317.8 322,318.5 322,352 314.5,351" fill="#c1c4c8"/>
    <polygon points="326,318 334,314 336,318 336,353 326,353" fill="#e6e7e9"/>
    <polygon points="328,324 332,322 333,340 328,340" fill="#c9cbcf"/>
    <polygon points="354,272 357.5,270 357.5,290 354,294" fill="#bfc2c6"/>
    <!-- exciter -->
    <ellipse cx="339.6" cy="301.8" rx="4" ry="8" fill="#4f5257"/>
    <polygon points="350,290 362,289 363,299 350,300" fill="#2f3033"/>
    <polygon points="367.5,294 373.6,296 373.6,317.5 368,318" fill="#2a4f9e"/>
    <line x1="340" y1="297.5" x2="368" y2="296.6" stroke="#3797e0" stroke-width="3.6"/>
    <line x1="341" y1="304" x2="360" y2="303.5" stroke="#3797e0" stroke-width="3.4"/>
    <line x1="371" y1="295.7" x2="362.3" y2="320" stroke="#3593de" stroke-width="4"/>
    <rect x="347.5" y="317" width="14" height="13.5" rx="2" fill="#2b5fb3"/>
    <rect x="350" y="321" width="3" height="9" fill="#1f3f80"/>
    <!-- legs -->
    <rect x="349.2" y="329" width="6" height="14" fill="#d9dbdd"/>
    <polygon points="356.2,322 367.5,320 367.5,348 356.2,348" fill="#d1d3d6"/>
    <rect x="355" y="345.5" width="13" height="3" fill="#b5b8bc"/>
  </g>
  <!-- stones -->
    <clipPath id="st1"><circle cx="106.1" cy="250" r="14.05"/></clipPath>
    <g clip-path="url(#st1)"><circle cx="106.1" cy="250" r="14.05" fill="#8c9099"/>
    <ellipse cx="103.7" cy="254.9" rx="2.5" ry="1.6" transform="rotate(17 103.7 254.9)" fill="#3c3e44"/>
    <ellipse cx="111.6" cy="246.5" rx="1.4" ry="0.8" transform="rotate(16 111.6 246.5)" fill="#d6d9df"/>
    <ellipse cx="108.4" cy="245.6" rx="1.6" ry="0.9" transform="rotate(104 108.4 245.6)" fill="#c3c7cf"/>
    <ellipse cx="109.1" cy="249.5" rx="2.9" ry="1.8" transform="rotate(97 109.1 249.5)" fill="#4a4c52"/>
    <ellipse cx="95.3" cy="245.7" rx="1.4" ry="0.9" transform="rotate(67 95.3 245.7)" fill="#d6d9df"/>
    <ellipse cx="109.3" cy="251.3" rx="1.6" ry="0.9" transform="rotate(140 109.3 251.3)" fill="#9aa0aa"/>
    <ellipse cx="113.6" cy="246.1" rx="1.7" ry="0.9" transform="rotate(15 113.6 246.1)" fill="#4a4c52"/>
    <ellipse cx="97.9" cy="250.3" rx="2.1" ry="1.2" transform="rotate(21 97.9 250.3)" fill="#c3c7cf"/>
    <ellipse cx="106.3" cy="244.5" rx="2.2" ry="1.4" transform="rotate(14 106.3 244.5)" fill="#3c3e44"/>
    <ellipse cx="109.2" cy="237.7" rx="1.9" ry="1.1" transform="rotate(104 109.2 237.7)" fill="#5e6168"/>
    <ellipse cx="113.4" cy="238.5" rx="2.1" ry="1.1" transform="rotate(132 113.4 238.5)" fill="#c3c7cf"/>
    <ellipse cx="95.9" cy="244.5" rx="2.1" ry="1.2" transform="rotate(4 95.9 244.5)" fill="#aab0ba"/>
    <ellipse cx="108.5" cy="254.2" rx="1.3" ry="0.7" transform="rotate(133 108.5 254.2)" fill="#d6d9df"/>
    <ellipse cx="114.7" cy="245.1" rx="1.5" ry="1.1" transform="rotate(159 114.7 245.1)" fill="#aab0ba"/>
    <ellipse cx="111.0" cy="244.4" rx="2.0" ry="0.9" transform="rotate(172 111.0 244.4)" fill="#5e6168"/>
    <ellipse cx="109.1" cy="256.1" rx="1.7" ry="0.7" transform="rotate(47 109.1 256.1)" fill="#d6d9df"/>
    <ellipse cx="98.6" cy="254.2" rx="2.3" ry="1.7" transform="rotate(82 98.6 254.2)" fill="#c3c7cf"/>
    <ellipse cx="117.2" cy="246.5" rx="2.3" ry="1.5" transform="rotate(19 117.2 246.5)" fill="#5e6168"/>
    <ellipse cx="109.5" cy="251.4" rx="1.6" ry="0.7" transform="rotate(108 109.5 251.4)" fill="#5e6168"/>
    <ellipse cx="96.7" cy="245.8" rx="3.1" ry="2.0" transform="rotate(157 96.7 245.8)" fill="#c3c7cf"/>
    <ellipse cx="110.3" cy="255.7" rx="1.9" ry="1.1" transform="rotate(21 110.3 255.7)" fill="#4a4c52"/>
    <ellipse cx="115.7" cy="248.6" rx="1.8" ry="0.9" transform="rotate(62 115.7 248.6)" fill="#3c3e44"/>
    <ellipse cx="108.8" cy="245.0" rx="1.2" ry="0.8" transform="rotate(26 108.8 245.0)" fill="#aab0ba"/>
    <ellipse cx="116.2" cy="251.7" rx="3.2" ry="2.4" transform="rotate(93 116.2 251.7)" fill="#aab0ba"/>
    <ellipse cx="102.0" cy="255.2" rx="2.3" ry="1.6" transform="rotate(110 102.0 255.2)" fill="#d6d9df"/>
    <ellipse cx="106.4" cy="243.8" rx="1.7" ry="1.0" transform="rotate(36 106.4 243.8)" fill="#d6d9df"/>
    <ellipse cx="104.4" cy="236.1" rx="2.8" ry="2.2" transform="rotate(125 104.4 236.1)" fill="#d6d9df"/>
    <ellipse cx="93.2" cy="254.4" rx="3.2" ry="1.4" transform="rotate(14 93.2 254.4)" fill="#aab0ba"/>
    <ellipse cx="98.1" cy="251.5" rx="2.2" ry="1.4" transform="rotate(86 98.1 251.5)" fill="#c3c7cf"/>
    <ellipse cx="107.4" cy="246.1" rx="2.5" ry="1.2" transform="rotate(86 107.4 246.1)" fill="#d6d9df"/>
    <ellipse cx="108.1" cy="242.1" rx="2.8" ry="2.0" transform="rotate(83 108.1 242.1)" fill="#9aa0aa"/>
    <ellipse cx="110.9" cy="252.8" rx="3.2" ry="2.3" transform="rotate(163 110.9 252.8)" fill="#3c3e44"/>
    <ellipse cx="113.9" cy="260.2" rx="3.2" ry="2.0" transform="rotate(28 113.9 260.2)" fill="#aab0ba"/>
    <ellipse cx="118.5" cy="251.7" rx="2.7" ry="1.5" transform="rotate(168 118.5 251.7)" fill="#3c3e44"/>
    <ellipse cx="114.9" cy="240.8" rx="1.6" ry="1.1" transform="rotate(90 114.9 240.8)" fill="#5e6168"/>
    <ellipse cx="101.3" cy="259.2" rx="2.9" ry="1.7" transform="rotate(64 101.3 259.2)" fill="#3c3e44"/>
    <ellipse cx="94.5" cy="243.3" rx="2.0" ry="1.2" transform="rotate(96 94.5 243.3)" fill="#d6d9df"/>
    <ellipse cx="115.4" cy="251.1" rx="1.6" ry="0.9" transform="rotate(31 115.4 251.1)" fill="#4a4c52"/>
    <ellipse cx="104.5" cy="239.6" rx="1.9" ry="0.8" transform="rotate(141 104.5 239.6)" fill="#9aa0aa"/>
    <ellipse cx="99.6" cy="247.4" rx="1.8" ry="1.2" transform="rotate(101 99.6 247.4)" fill="#9aa0aa"/>
    <ellipse cx="114.1" cy="245.1" rx="2.4" ry="1.4" transform="rotate(125 114.1 245.1)" fill="#d6d9df"/>
    <ellipse cx="96.6" cy="248.0" rx="3.1" ry="2.3" transform="rotate(166 96.6 248.0)" fill="#aab0ba"/>
    <ellipse cx="108.9" cy="259.0" rx="2.0" ry="1.0" transform="rotate(13 108.9 259.0)" fill="#5e6168"/>
    <ellipse cx="116.4" cy="255.1" rx="2.8" ry="1.8" transform="rotate(169 116.4 255.1)" fill="#d6d9df"/>
    <ellipse cx="101.4" cy="255.3" rx="1.5" ry="0.9" transform="rotate(72 101.4 255.3)" fill="#c3c7cf"/>
    <ellipse cx="118.9" cy="249.2" rx="1.5" ry="0.7" transform="rotate(61 118.9 249.2)" fill="#9aa0aa"/>
    <ellipse cx="101.1" cy="260.8" rx="1.2" ry="0.7" transform="rotate(127 101.1 260.8)" fill="#9aa0aa"/>
    <ellipse cx="98.5" cy="249.2" rx="3.1" ry="1.4" transform="rotate(175 98.5 249.2)" fill="#4a4c52"/>
    <ellipse cx="105.8" cy="252.8" rx="2.8" ry="2.0" transform="rotate(148 105.8 252.8)" fill="#4a4c52"/>
    <ellipse cx="100.0" cy="237.8" rx="2.0" ry="0.9" transform="rotate(126 100.0 237.8)" fill="#9aa0aa"/>
    <ellipse cx="117.0" cy="254.1" rx="2.1" ry="1.5" transform="rotate(114 117.0 254.1)" fill="#4a4c52"/>
    <ellipse cx="117.3" cy="256.5" rx="1.3" ry="1.1" transform="rotate(2 117.3 256.5)" fill="#9aa0aa"/>
    <ellipse cx="94.4" cy="256.6" rx="2.4" ry="1.1" transform="rotate(43 94.4 256.6)" fill="#3c3e44"/>
    <ellipse cx="107.8" cy="252.7" rx="1.6" ry="0.8" transform="rotate(96 107.8 252.7)" fill="#5e6168"/>
    <ellipse cx="95.2" cy="253.9" rx="1.7" ry="0.7" transform="rotate(7 95.2 253.9)" fill="#aab0ba"/>
    <ellipse cx="92.2" cy="249.5" rx="2.2" ry="1.6" transform="rotate(19 92.2 249.5)" fill="#5e6168"/>
    <ellipse cx="97.1" cy="254.1" rx="2.9" ry="1.4" transform="rotate(55 97.1 254.1)" fill="#3c3e44"/>
    <ellipse cx="106.9" cy="256.2" rx="3.0" ry="1.6" transform="rotate(73 106.9 256.2)" fill="#d6d9df"/>
    <ellipse cx="110.9" cy="251.7" rx="1.3" ry="0.6" transform="rotate(78 110.9 251.7)" fill="#aab0ba"/>
    <ellipse cx="101.7" cy="242.5" rx="2.2" ry="0.9" transform="rotate(125 101.7 242.5)" fill="#d6d9df"/>
    <ellipse cx="109.0" cy="256.7" rx="1.2" ry="0.7" transform="rotate(175 109.0 256.7)" fill="#5e6168"/>
    <ellipse cx="106.6" cy="263.8" rx="1.8" ry="0.8" transform="rotate(60 106.6 263.8)" fill="#4a4c52"/>
    <ellipse cx="104.0" cy="261.2" rx="1.7" ry="0.7" transform="rotate(48 104.0 261.2)" fill="#c3c7cf"/>
    <ellipse cx="103.8" cy="251.7" rx="1.2" ry="1.0" transform="rotate(15 103.8 251.7)" fill="#4a4c52"/>
    <ellipse cx="109.4" cy="245.6" rx="3.0" ry="2.1" transform="rotate(138 109.4 245.6)" fill="#9aa0aa"/>
    <ellipse cx="98.6" cy="250.3" rx="2.4" ry="1.6" transform="rotate(161 98.6 250.3)" fill="#3c3e44"/>
    <ellipse cx="104.8" cy="237.4" rx="1.5" ry="0.9" transform="rotate(149 104.8 237.4)" fill="#c3c7cf"/>
    <ellipse cx="115.2" cy="242.8" rx="2.6" ry="1.7" transform="rotate(8 115.2 242.8)" fill="#4a4c52"/>
    <ellipse cx="114.4" cy="247.8" rx="2.1" ry="1.4" transform="rotate(113 114.4 247.8)" fill="#4a4c52"/>
    <ellipse cx="105.3" cy="250.1" rx="2.8" ry="1.2" transform="rotate(119 105.3 250.1)" fill="#c3c7cf"/>
    </g>
    <clipPath id="st2"><circle cx="104.2" cy="293.4" r="14"/></clipPath>
    <g clip-path="url(#st2)"><circle cx="104.2" cy="293.4" r="14" fill="#8d9ba6"/>
    <ellipse cx="103.6" cy="286.4" rx="1.0" ry="0.5" transform="rotate(136 103.6 286.4)" fill="#4a5660"/>
    <ellipse cx="98.6" cy="285.7" rx="2.0" ry="0.8" transform="rotate(52 98.6 285.7)" fill="#4a5660"/>
    <ellipse cx="100.0" cy="288.8" rx="1.7" ry="0.9" transform="rotate(134 100.0 288.8)" fill="#4a5660"/>
    <ellipse cx="102.8" cy="292.8" rx="1.0" ry="0.5" transform="rotate(18 102.8 292.8)" fill="#4a5660"/>
    <ellipse cx="92.4" cy="294.2" rx="1.3" ry="0.8" transform="rotate(179 92.4 294.2)" fill="#c6d0d6"/>
    <ellipse cx="102.6" cy="297.2" rx="1.5" ry="1.2" transform="rotate(148 102.6 297.2)" fill="#56636e"/>
    <ellipse cx="97.3" cy="295.7" rx="1.2" ry="0.5" transform="rotate(13 97.3 295.7)" fill="#c6d0d6"/>
    <ellipse cx="104.1" cy="286.2" rx="1.4" ry="1.0" transform="rotate(92 104.1 286.2)" fill="#aab7bf"/>
    <ellipse cx="102.3" cy="287.0" rx="2.1" ry="1.6" transform="rotate(29 102.3 287.0)" fill="#c6d0d6"/>
    <ellipse cx="100.5" cy="285.3" rx="1.8" ry="1.4" transform="rotate(57 100.5 285.3)" fill="#677581"/>
    <ellipse cx="116.3" cy="293.5" rx="2.0" ry="1.5" transform="rotate(128 116.3 293.5)" fill="#56636e"/>
    <ellipse cx="102.1" cy="301.7" rx="1.4" ry="1.1" transform="rotate(14 102.1 301.7)" fill="#aab7bf"/>
    <ellipse cx="104.7" cy="280.5" rx="1.3" ry="1.0" transform="rotate(51 104.7 280.5)" fill="#4a5660"/>
    <ellipse cx="104.2" cy="300.6" rx="1.6" ry="0.9" transform="rotate(141 104.2 300.6)" fill="#677581"/>
    <ellipse cx="116.2" cy="295.6" rx="1.4" ry="1.0" transform="rotate(99 116.2 295.6)" fill="#aab7bf"/>
    <ellipse cx="115.6" cy="297.1" rx="1.5" ry="0.9" transform="rotate(157 115.6 297.1)" fill="#aab7bf"/>
    <ellipse cx="113.0" cy="287.9" rx="1.1" ry="0.8" transform="rotate(54 113.0 287.9)" fill="#677581"/>
    <ellipse cx="111.3" cy="292.3" rx="1.8" ry="0.8" transform="rotate(120 111.3 292.3)" fill="#4a5660"/>
    <ellipse cx="101.8" cy="290.4" rx="1.6" ry="1.2" transform="rotate(40 101.8 290.4)" fill="#aab7bf"/>
    <ellipse cx="113.6" cy="293.2" rx="1.1" ry="0.7" transform="rotate(31 113.6 293.2)" fill="#56636e"/>
    <ellipse cx="100.6" cy="301.1" rx="2.0" ry="1.1" transform="rotate(135 100.6 301.1)" fill="#56636e"/>
    <ellipse cx="95.5" cy="298.6" rx="1.4" ry="0.9" transform="rotate(90 95.5 298.6)" fill="#56636e"/>
    <ellipse cx="96.8" cy="302.3" rx="1.6" ry="1.2" transform="rotate(17 96.8 302.3)" fill="#c6d0d6"/>
    <ellipse cx="95.8" cy="300.9" rx="1.5" ry="0.8" transform="rotate(23 95.8 300.9)" fill="#56636e"/>
    <ellipse cx="105.3" cy="280.9" rx="2.2" ry="1.7" transform="rotate(70 105.3 280.9)" fill="#c6d0d6"/>
    <ellipse cx="110.1" cy="281.9" rx="2.2" ry="1.0" transform="rotate(40 110.1 281.9)" fill="#56636e"/>
    <ellipse cx="108.7" cy="292.6" rx="2.0" ry="1.4" transform="rotate(15 108.7 292.6)" fill="#d8dfe3"/>
    <ellipse cx="109.2" cy="293.4" rx="1.6" ry="0.7" transform="rotate(55 109.2 293.4)" fill="#4a5660"/>
    <ellipse cx="104.1" cy="304.6" rx="1.8" ry="1.4" transform="rotate(54 104.1 304.6)" fill="#56636e"/>
    <ellipse cx="106.8" cy="300.1" rx="1.9" ry="1.1" transform="rotate(54 106.8 300.1)" fill="#4a5660"/>
    <ellipse cx="115.1" cy="290.5" rx="2.0" ry="0.8" transform="rotate(98 115.1 290.5)" fill="#c6d0d6"/>
    <ellipse cx="94.6" cy="299.3" rx="1.0" ry="0.4" transform="rotate(116 94.6 299.3)" fill="#4a5660"/>
    <ellipse cx="105.5" cy="302.4" rx="1.4" ry="0.8" transform="rotate(61 105.5 302.4)" fill="#aab7bf"/>
    <ellipse cx="101.6" cy="287.7" rx="1.9" ry="1.2" transform="rotate(12 101.6 287.7)" fill="#aab7bf"/>
    <ellipse cx="108.0" cy="305.1" rx="1.2" ry="0.6" transform="rotate(137 108.0 305.1)" fill="#d8dfe3"/>
    <ellipse cx="113.6" cy="290.5" rx="1.1" ry="0.5" transform="rotate(164 113.6 290.5)" fill="#677581"/>
    <ellipse cx="93.1" cy="285.9" rx="1.0" ry="0.4" transform="rotate(26 93.1 285.9)" fill="#4a5660"/>
    <ellipse cx="112.4" cy="296.6" rx="2.1" ry="0.9" transform="rotate(20 112.4 296.6)" fill="#aab7bf"/>
    <ellipse cx="107.3" cy="298.7" rx="1.7" ry="1.2" transform="rotate(6 107.3 298.7)" fill="#d8dfe3"/>
    <ellipse cx="98.0" cy="299.3" rx="1.3" ry="0.6" transform="rotate(14 98.0 299.3)" fill="#56636e"/>
    <ellipse cx="92.7" cy="299.7" rx="1.6" ry="1.2" transform="rotate(64 92.7 299.7)" fill="#d8dfe3"/>
    <ellipse cx="108.2" cy="285.1" rx="1.0" ry="0.6" transform="rotate(97 108.2 285.1)" fill="#d8dfe3"/>
    <ellipse cx="98.9" cy="304.2" rx="1.5" ry="1.1" transform="rotate(146 98.9 304.2)" fill="#c6d0d6"/>
    <ellipse cx="106.7" cy="294.1" rx="1.0" ry="0.4" transform="rotate(35 106.7 294.1)" fill="#d8dfe3"/>
    <ellipse cx="97.6" cy="288.2" rx="1.3" ry="0.9" transform="rotate(47 97.6 288.2)" fill="#c6d0d6"/>
    <ellipse cx="101.2" cy="300.1" rx="0.9" ry="0.4" transform="rotate(170 101.2 300.1)" fill="#aab7bf"/>
    <ellipse cx="106.3" cy="289.3" rx="1.8" ry="1.4" transform="rotate(142 106.3 289.3)" fill="#d8dfe3"/>
    <ellipse cx="106.2" cy="288.7" rx="1.5" ry="1.0" transform="rotate(55 106.2 288.7)" fill="#4a5660"/>
    <ellipse cx="108.2" cy="298.9" rx="2.0" ry="1.0" transform="rotate(14 108.2 298.9)" fill="#aab7bf"/>
    <ellipse cx="104.3" cy="286.4" rx="1.0" ry="0.5" transform="rotate(98 104.3 286.4)" fill="#4a5660"/>
    <ellipse cx="100.1" cy="295.4" rx="1.0" ry="0.6" transform="rotate(17 100.1 295.4)" fill="#c6d0d6"/>
    <ellipse cx="101.9" cy="284.3" rx="1.2" ry="0.6" transform="rotate(160 101.9 284.3)" fill="#4a5660"/>
    <ellipse cx="92.2" cy="290.4" rx="1.9" ry="1.2" transform="rotate(53 92.2 290.4)" fill="#d8dfe3"/>
    <ellipse cx="95.8" cy="302.0" rx="1.2" ry="0.6" transform="rotate(42 95.8 302.0)" fill="#56636e"/>
    <ellipse cx="109.3" cy="290.1" rx="1.0" ry="0.5" transform="rotate(91 109.3 290.1)" fill="#56636e"/>
    <ellipse cx="108.3" cy="282.8" rx="2.2" ry="1.1" transform="rotate(159 108.3 282.8)" fill="#677581"/>
    <ellipse cx="96.1" cy="296.1" rx="2.0" ry="1.6" transform="rotate(34 96.1 296.1)" fill="#56636e"/>
    <ellipse cx="92.5" cy="286.7" rx="1.4" ry="1.0" transform="rotate(109 92.5 286.7)" fill="#d8dfe3"/>
    <ellipse cx="103.6" cy="292.4" rx="1.7" ry="0.9" transform="rotate(39 103.6 292.4)" fill="#d8dfe3"/>
    <ellipse cx="108.2" cy="298.3" rx="1.2" ry="0.9" transform="rotate(165 108.2 298.3)" fill="#aab7bf"/>
    <ellipse cx="108.0" cy="285.3" rx="1.4" ry="1.0" transform="rotate(37 108.0 285.3)" fill="#c6d0d6"/>
    <ellipse cx="100.8" cy="292.4" rx="1.0" ry="0.6" transform="rotate(28 100.8 292.4)" fill="#4a5660"/>
    <ellipse cx="99.1" cy="286.2" rx="1.3" ry="1.0" transform="rotate(55 99.1 286.2)" fill="#aab7bf"/>
    <ellipse cx="100.2" cy="303.1" rx="1.4" ry="0.8" transform="rotate(116 100.2 303.1)" fill="#677581"/>
    <ellipse cx="93.0" cy="301.0" rx="1.5" ry="0.8" transform="rotate(148 93.0 301.0)" fill="#56636e"/>
    <ellipse cx="111.2" cy="287.0" rx="1.1" ry="0.8" transform="rotate(26 111.2 287.0)" fill="#4a5660"/>
    <ellipse cx="95.8" cy="299.8" rx="2.1" ry="1.1" transform="rotate(26 95.8 299.8)" fill="#c6d0d6"/>
    <ellipse cx="90.9" cy="291.6" rx="1.0" ry="0.8" transform="rotate(54 90.9 291.6)" fill="#c6d0d6"/>
    <ellipse cx="117.1" cy="297.0" rx="1.3" ry="1.0" transform="rotate(70 117.1 297.0)" fill="#aab7bf"/>
    <ellipse cx="95.0" cy="284.7" rx="1.1" ry="0.7" transform="rotate(112 95.0 284.7)" fill="#c6d0d6"/>
    <ellipse cx="107.4" cy="302.5" rx="1.6" ry="0.9" transform="rotate(28 107.4 302.5)" fill="#4a5660"/>
    <ellipse cx="112.3" cy="304.5" rx="2.0" ry="1.3" transform="rotate(152 112.3 304.5)" fill="#4a5660"/>
    <ellipse cx="100.3" cy="286.5" rx="1.4" ry="0.9" transform="rotate(140 100.3 286.5)" fill="#aab7bf"/>
    <ellipse cx="101.7" cy="299.9" rx="1.4" ry="0.6" transform="rotate(79 101.7 299.9)" fill="#4a5660"/>
    <ellipse cx="97.0" cy="286.7" rx="1.2" ry="0.9" transform="rotate(151 97.0 286.7)" fill="#d8dfe3"/>
    <ellipse cx="101.3" cy="295.5" rx="1.4" ry="0.9" transform="rotate(91 101.3 295.5)" fill="#677581"/>
    <ellipse cx="109.1" cy="294.7" rx="2.1" ry="0.9" transform="rotate(92 109.1 294.7)" fill="#4a5660"/>
    <ellipse cx="95.6" cy="293.2" rx="2.1" ry="1.5" transform="rotate(179 95.6 293.2)" fill="#56636e"/>
    <ellipse cx="106.6" cy="287.7" rx="2.2" ry="1.5" transform="rotate(124 106.6 287.7)" fill="#c6d0d6"/>
    <ellipse cx="106.5" cy="306.0" rx="1.7" ry="0.9" transform="rotate(161 106.5 306.0)" fill="#677581"/>
    <ellipse cx="106.3" cy="288.5" rx="1.6" ry="1.0" transform="rotate(107 106.3 288.5)" fill="#c6d0d6"/>
    <ellipse cx="104.9" cy="301.9" rx="1.2" ry="0.8" transform="rotate(169 104.9 301.9)" fill="#4a5660"/>
    <ellipse cx="108.8" cy="289.9" rx="1.9" ry="1.4" transform="rotate(9 108.8 289.9)" fill="#4a5660"/>
    <ellipse cx="113.4" cy="291.4" rx="1.6" ry="1.0" transform="rotate(45 113.4 291.4)" fill="#c6d0d6"/>
    <ellipse cx="111.7" cy="284.0" rx="1.4" ry="0.8" transform="rotate(104 111.7 284.0)" fill="#677581"/>
    <ellipse cx="105.1" cy="284.1" rx="1.1" ry="0.7" transform="rotate(53 105.1 284.1)" fill="#c6d0d6"/>
    <ellipse cx="99.1" cy="306.2" rx="2.0" ry="1.4" transform="rotate(132 99.1 306.2)" fill="#d8dfe3"/>
    <ellipse cx="105.5" cy="300.8" rx="1.7" ry="0.8" transform="rotate(161 105.5 300.8)" fill="#677581"/>
    <ellipse cx="105.8" cy="304.6" rx="0.9" ry="0.6" transform="rotate(55 105.8 304.6)" fill="#677581"/>
    <ellipse cx="95.4" cy="291.5" rx="1.3" ry="0.8" transform="rotate(112 95.4 291.5)" fill="#677581"/>
    <ellipse cx="113.2" cy="303.5" rx="1.2" ry="0.6" transform="rotate(11 113.2 303.5)" fill="#56636e"/>
    <ellipse cx="100.5" cy="287.1" rx="2.0" ry="1.2" transform="rotate(116 100.5 287.1)" fill="#c6d0d6"/>
    <ellipse cx="97.6" cy="302.5" rx="1.5" ry="0.7" transform="rotate(89 97.6 302.5)" fill="#aab7bf"/>
    <ellipse cx="107.7" cy="293.4" rx="0.9" ry="0.7" transform="rotate(11 107.7 293.4)" fill="#56636e"/>
    <ellipse cx="114.6" cy="294.2" rx="2.1" ry="1.4" transform="rotate(93 114.6 294.2)" fill="#56636e"/>
    <ellipse cx="98.8" cy="286.2" rx="1.7" ry="0.7" transform="rotate(54 98.8 286.2)" fill="#c6d0d6"/>
    <ellipse cx="113.7" cy="285.5" rx="1.8" ry="1.1" transform="rotate(134 113.7 285.5)" fill="#677581"/>
    <ellipse cx="103.7" cy="284.0" rx="1.2" ry="0.5" transform="rotate(116 103.7 284.0)" fill="#56636e"/>
    <ellipse cx="114.6" cy="284.9" rx="2.1" ry="1.3" transform="rotate(48 114.6 284.9)" fill="#56636e"/>
    <ellipse cx="92.8" cy="298.3" rx="1.6" ry="1.2" transform="rotate(167 92.8 298.3)" fill="#4a5660"/>
    <ellipse cx="112.8" cy="298.5" rx="1.1" ry="0.5" transform="rotate(36 112.8 298.5)" fill="#aab7bf"/>
    <ellipse cx="109.5" cy="290.3" rx="1.4" ry="0.9" transform="rotate(163 109.5 290.3)" fill="#d8dfe3"/>
    <ellipse cx="100.2" cy="282.7" rx="2.2" ry="1.6" transform="rotate(126 100.2 282.7)" fill="#aab7bf"/>
    <ellipse cx="93.2" cy="298.0" rx="1.6" ry="1.0" transform="rotate(70 93.2 298.0)" fill="#56636e"/>
    <ellipse cx="98.9" cy="291.1" rx="0.9" ry="0.5" transform="rotate(167 98.9 291.1)" fill="#4a5660"/>
    <ellipse cx="105.7" cy="295.2" rx="1.0" ry="0.4" transform="rotate(8 105.7 295.2)" fill="#aab7bf"/>
    <ellipse cx="116.6" cy="297.1" rx="1.9" ry="0.8" transform="rotate(160 116.6 297.1)" fill="#4a5660"/>
    <ellipse cx="113.2" cy="283.5" rx="2.1" ry="0.9" transform="rotate(37 113.2 283.5)" fill="#56636e"/>
    <ellipse cx="116.9" cy="289.2" rx="1.9" ry="1.1" transform="rotate(114 116.9 289.2)" fill="#4a5660"/>
    <ellipse cx="112.6" cy="302.6" rx="1.7" ry="0.7" transform="rotate(76 112.6 302.6)" fill="#677581"/>
    </g>
    <path d="M98,281.5 Q104,278.5 111,281.5" stroke="#2a2c30" stroke-width="1.6" fill="none"/>
    <clipPath id="st3"><circle cx="105.1" cy="336.8" r="14"/></clipPath>
    <g clip-path="url(#st3)"><circle cx="105.1" cy="336.8" r="14" fill="#a3aeb5"/>
    <ellipse cx="104.8" cy="344.2" rx="1.5" ry="1.0" transform="rotate(138 104.8 344.2)" fill="#8d99a1"/>
    <ellipse cx="97.7" cy="337.9" rx="1.5" ry="1.1" transform="rotate(79 97.7 337.9)" fill="#c3cbd0"/>
    <ellipse cx="98.4" cy="346.4" rx="1.3" ry="0.7" transform="rotate(103 98.4 346.4)" fill="#7f8c95"/>
    <ellipse cx="95.8" cy="340.8" rx="1.1" ry="0.6" transform="rotate(1 95.8 340.8)" fill="#c3cbd0"/>
    <ellipse cx="92.6" cy="337.5" rx="1.0" ry="0.6" transform="rotate(172 92.6 337.5)" fill="#8d99a1"/>
    <ellipse cx="100.2" cy="334.2" rx="1.6" ry="0.7" transform="rotate(90 100.2 334.2)" fill="#c3cbd0"/>
    <ellipse cx="102.5" cy="333.8" rx="1.6" ry="0.9" transform="rotate(113 102.5 333.8)" fill="#c3cbd0"/>
    <ellipse cx="97.9" cy="341.9" rx="1.7" ry="0.9" transform="rotate(67 97.9 341.9)" fill="#7f8c95"/>
    <ellipse cx="95.8" cy="341.3" rx="1.0" ry="0.6" transform="rotate(42 95.8 341.3)" fill="#b4bec4"/>
    <ellipse cx="93.2" cy="334.4" rx="1.6" ry="0.9" transform="rotate(105 93.2 334.4)" fill="#d0d6da"/>
    <ellipse cx="111.4" cy="329.9" rx="1.4" ry="1.0" transform="rotate(79 111.4 329.9)" fill="#8d99a1"/>
    <ellipse cx="100.7" cy="334.4" rx="1.3" ry="0.6" transform="rotate(91 100.7 334.4)" fill="#c3cbd0"/>
    <ellipse cx="105.5" cy="324.1" rx="1.4" ry="0.9" transform="rotate(130 105.5 324.1)" fill="#c3cbd0"/>
    <ellipse cx="101.1" cy="342.3" rx="1.8" ry="1.2" transform="rotate(30 101.1 342.3)" fill="#7f8c95"/>
    <ellipse cx="106.9" cy="341.9" rx="0.9" ry="0.5" transform="rotate(78 106.9 341.9)" fill="#8d99a1"/>
    <ellipse cx="102.1" cy="333.3" rx="1.0" ry="0.7" transform="rotate(2 102.1 333.3)" fill="#7f8c95"/>
    <ellipse cx="99.0" cy="339.4" rx="1.8" ry="1.1" transform="rotate(26 99.0 339.4)" fill="#7f8c95"/>
    <ellipse cx="95.1" cy="343.6" rx="1.7" ry="1.1" transform="rotate(152 95.1 343.6)" fill="#8d99a1"/>
    <ellipse cx="97.6" cy="326.1" rx="1.4" ry="0.9" transform="rotate(122 97.6 326.1)" fill="#c3cbd0"/>
    <ellipse cx="97.6" cy="339.0" rx="1.4" ry="0.8" transform="rotate(44 97.6 339.0)" fill="#8d99a1"/>
    <ellipse cx="103.8" cy="331.4" rx="1.6" ry="0.9" transform="rotate(112 103.8 331.4)" fill="#7f8c95"/>
    <ellipse cx="99.0" cy="324.8" rx="1.0" ry="0.6" transform="rotate(70 99.0 324.8)" fill="#c3cbd0"/>
    <ellipse cx="107.8" cy="336.4" rx="1.3" ry="0.6" transform="rotate(93 107.8 336.4)" fill="#7f8c95"/>
    <ellipse cx="95.9" cy="332.2" rx="1.5" ry="0.8" transform="rotate(143 95.9 332.2)" fill="#b4bec4"/>
    <ellipse cx="98.5" cy="346.9" rx="1.3" ry="0.9" transform="rotate(71 98.5 346.9)" fill="#c3cbd0"/>
    <ellipse cx="115.1" cy="346.5" rx="1.2" ry="0.5" transform="rotate(69 115.1 346.5)" fill="#8d99a1"/>
    <ellipse cx="117.0" cy="342.9" rx="1.4" ry="0.7" transform="rotate(48 117.0 342.9)" fill="#b4bec4"/>
    <ellipse cx="104.4" cy="323.2" rx="1.3" ry="0.6" transform="rotate(83 104.4 323.2)" fill="#8d99a1"/>
    <ellipse cx="108.4" cy="335.2" rx="1.6" ry="0.7" transform="rotate(147 108.4 335.2)" fill="#7f8c95"/>
    <ellipse cx="98.7" cy="325.8" rx="1.6" ry="1.1" transform="rotate(137 98.7 325.8)" fill="#8d99a1"/>
    <ellipse cx="106.9" cy="327.4" rx="1.6" ry="1.3" transform="rotate(124 106.9 327.4)" fill="#8d99a1"/>
    <ellipse cx="100.9" cy="328.0" rx="1.6" ry="0.8" transform="rotate(44 100.9 328.0)" fill="#d0d6da"/>
    <ellipse cx="96.0" cy="338.0" rx="1.4" ry="0.7" transform="rotate(27 96.0 338.0)" fill="#d0d6da"/>
    <ellipse cx="102.0" cy="339.5" rx="1.4" ry="0.7" transform="rotate(96 102.0 339.5)" fill="#7f8c95"/>
    <ellipse cx="95.2" cy="331.2" rx="1.0" ry="0.4" transform="rotate(45 95.2 331.2)" fill="#8d99a1"/>
    <ellipse cx="109.3" cy="342.1" rx="1.6" ry="0.9" transform="rotate(38 109.3 342.1)" fill="#7f8c95"/>
    <ellipse cx="94.4" cy="334.4" rx="1.5" ry="1.1" transform="rotate(120 94.4 334.4)" fill="#c3cbd0"/>
    <ellipse cx="108.1" cy="324.3" rx="1.0" ry="0.7" transform="rotate(14 108.1 324.3)" fill="#b4bec4"/>
    <ellipse cx="102.8" cy="332.6" rx="0.9" ry="0.6" transform="rotate(85 102.8 332.6)" fill="#7f8c95"/>
    <ellipse cx="91.8" cy="338.1" rx="1.5" ry="1.1" transform="rotate(97 91.8 338.1)" fill="#7f8c95"/>
    <ellipse cx="117.9" cy="337.3" rx="1.3" ry="0.7" transform="rotate(53 117.9 337.3)" fill="#b4bec4"/>
    <ellipse cx="92.6" cy="343.1" rx="1.5" ry="0.6" transform="rotate(115 92.6 343.1)" fill="#8d99a1"/>
    <ellipse cx="96.2" cy="329.4" rx="1.7" ry="1.0" transform="rotate(92 96.2 329.4)" fill="#7f8c95"/>
    <ellipse cx="107.2" cy="335.3" rx="1.5" ry="1.0" transform="rotate(17 107.2 335.3)" fill="#d0d6da"/>
    <ellipse cx="98.4" cy="347.2" rx="1.4" ry="0.8" transform="rotate(78 98.4 347.2)" fill="#d0d6da"/>
    <ellipse cx="93.1" cy="332.6" rx="1.1" ry="0.9" transform="rotate(60 93.1 332.6)" fill="#d0d6da"/>
    <ellipse cx="110.8" cy="330.9" rx="1.0" ry="0.5" transform="rotate(60 110.8 330.9)" fill="#7f8c95"/>
    <ellipse cx="101.8" cy="347.0" rx="1.4" ry="0.9" transform="rotate(72 101.8 347.0)" fill="#c3cbd0"/>
    <ellipse cx="96.3" cy="342.7" rx="1.2" ry="0.9" transform="rotate(34 96.3 342.7)" fill="#7f8c95"/>
    <ellipse cx="96.3" cy="329.6" rx="1.6" ry="0.7" transform="rotate(68 96.3 329.6)" fill="#b4bec4"/>
    <ellipse cx="99.7" cy="326.5" rx="1.7" ry="1.0" transform="rotate(120 99.7 326.5)" fill="#7f8c95"/>
    <ellipse cx="105.5" cy="332.4" rx="1.0" ry="0.6" transform="rotate(165 105.5 332.4)" fill="#7f8c95"/>
    <ellipse cx="96.5" cy="346.1" rx="1.6" ry="0.8" transform="rotate(155 96.5 346.1)" fill="#d0d6da"/>
    <ellipse cx="107.1" cy="337.2" rx="1.4" ry="0.8" transform="rotate(90 107.1 337.2)" fill="#c3cbd0"/>
    <ellipse cx="110.7" cy="325.8" rx="1.2" ry="0.5" transform="rotate(80 110.7 325.8)" fill="#d0d6da"/>
    <ellipse cx="96.9" cy="343.8" rx="1.7" ry="1.1" transform="rotate(139 96.9 343.8)" fill="#d0d6da"/>
    <ellipse cx="113.4" cy="341.6" rx="1.7" ry="1.1" transform="rotate(1 113.4 341.6)" fill="#d0d6da"/>
    <ellipse cx="115.0" cy="346.3" rx="0.9" ry="0.5" transform="rotate(85 115.0 346.3)" fill="#c3cbd0"/>
    <ellipse cx="96.6" cy="332.9" rx="1.5" ry="1.1" transform="rotate(139 96.6 332.9)" fill="#d0d6da"/>
    <ellipse cx="112.5" cy="327.4" rx="0.9" ry="0.6" transform="rotate(90 112.5 327.4)" fill="#b4bec4"/>
    <ellipse cx="115.4" cy="328.3" rx="0.9" ry="0.6" transform="rotate(3 115.4 328.3)" fill="#7f8c95"/>
    <ellipse cx="106.7" cy="333.2" rx="1.1" ry="0.8" transform="rotate(172 106.7 333.2)" fill="#c3cbd0"/>
    <ellipse cx="99.0" cy="331.8" rx="1.7" ry="0.8" transform="rotate(122 99.0 331.8)" fill="#d0d6da"/>
    <ellipse cx="107.6" cy="328.7" rx="1.4" ry="1.0" transform="rotate(86 107.6 328.7)" fill="#d0d6da"/>
    <ellipse cx="98.1" cy="338.9" rx="1.6" ry="1.2" transform="rotate(11 98.1 338.9)" fill="#8d99a1"/>
    <ellipse cx="101.4" cy="324.6" rx="1.1" ry="0.7" transform="rotate(150 101.4 324.6)" fill="#c3cbd0"/>
    <ellipse cx="101.8" cy="345.4" rx="1.7" ry="1.3" transform="rotate(108 101.8 345.4)" fill="#8d99a1"/>
    <ellipse cx="107.7" cy="329.8" rx="0.8" ry="0.6" transform="rotate(28 107.7 329.8)" fill="#8d99a1"/>
    <ellipse cx="106.1" cy="324.5" rx="1.1" ry="0.8" transform="rotate(49 106.1 324.5)" fill="#7f8c95"/>
    <ellipse cx="109.2" cy="326.0" rx="1.7" ry="1.0" transform="rotate(97 109.2 326.0)" fill="#7f8c95"/>
    <ellipse cx="96.0" cy="345.2" rx="1.5" ry="1.0" transform="rotate(109 96.0 345.2)" fill="#d0d6da"/>
    <ellipse cx="98.9" cy="338.2" rx="1.1" ry="0.5" transform="rotate(83 98.9 338.2)" fill="#d0d6da"/>
    <ellipse cx="109.4" cy="325.3" rx="1.0" ry="0.6" transform="rotate(159 109.4 325.3)" fill="#d0d6da"/>
    <ellipse cx="94.5" cy="338.4" rx="1.0" ry="0.5" transform="rotate(145 94.5 338.4)" fill="#7f8c95"/>
    <ellipse cx="97.7" cy="332.9" rx="1.6" ry="1.3" transform="rotate(8 97.7 332.9)" fill="#c3cbd0"/>
    <ellipse cx="101.9" cy="340.0" rx="1.4" ry="0.6" transform="rotate(57 101.9 340.0)" fill="#c3cbd0"/>
    <ellipse cx="103.0" cy="347.5" rx="0.9" ry="0.4" transform="rotate(106 103.0 347.5)" fill="#8d99a1"/>
    <ellipse cx="111.7" cy="333.5" rx="0.9" ry="0.4" transform="rotate(46 111.7 333.5)" fill="#7f8c95"/>
    <ellipse cx="106.9" cy="342.5" rx="0.9" ry="0.5" transform="rotate(157 106.9 342.5)" fill="#8d99a1"/>
    <ellipse cx="117.7" cy="332.5" rx="0.9" ry="0.6" transform="rotate(166 117.7 332.5)" fill="#d0d6da"/>
    <ellipse cx="111.8" cy="341.0" rx="1.0" ry="0.8" transform="rotate(33 111.8 341.0)" fill="#8d99a1"/>
    <ellipse cx="100.4" cy="341.7" rx="1.5" ry="0.6" transform="rotate(169 100.4 341.7)" fill="#8d99a1"/>
    <ellipse cx="102.9" cy="336.0" rx="1.7" ry="0.8" transform="rotate(10 102.9 336.0)" fill="#8d99a1"/>
    <ellipse cx="105.5" cy="323.2" rx="1.5" ry="0.7" transform="rotate(136 105.5 323.2)" fill="#8d99a1"/>
    <ellipse cx="101.9" cy="343.1" rx="0.9" ry="0.7" transform="rotate(79 101.9 343.1)" fill="#7f8c95"/>
    <ellipse cx="116.5" cy="330.0" rx="1.3" ry="0.9" transform="rotate(28 116.5 330.0)" fill="#c3cbd0"/>
    <ellipse cx="114.8" cy="342.0" rx="1.2" ry="0.9" transform="rotate(172 114.8 342.0)" fill="#d0d6da"/>
    <ellipse cx="103.6" cy="338.2" rx="0.9" ry="0.5" transform="rotate(148 103.6 338.2)" fill="#d0d6da"/>
    <ellipse cx="101.4" cy="333.0" rx="1.0" ry="0.5" transform="rotate(100 101.4 333.0)" fill="#8d99a1"/>
    <ellipse cx="110.1" cy="331.6" rx="1.2" ry="0.6" transform="rotate(103 110.1 331.6)" fill="#8d99a1"/>
    <ellipse cx="107.5" cy="330.1" rx="0.9" ry="0.7" transform="rotate(21 107.5 330.1)" fill="#8d99a1"/>
    <ellipse cx="117.5" cy="341.4" rx="1.5" ry="0.7" transform="rotate(150 117.5 341.4)" fill="#8d99a1"/>
    <ellipse cx="105.5" cy="323.0" rx="1.2" ry="0.5" transform="rotate(167 105.5 323.0)" fill="#7f8c95"/>
    <ellipse cx="101.9" cy="349.6" rx="0.9" ry="0.6" transform="rotate(26 101.9 349.6)" fill="#d0d6da"/>
    <ellipse cx="95.8" cy="340.3" rx="1.3" ry="0.8" transform="rotate(33 95.8 340.3)" fill="#8d99a1"/>
    <ellipse cx="110.7" cy="333.4" rx="1.4" ry="0.7" transform="rotate(94 110.7 333.4)" fill="#7f8c95"/>
    <ellipse cx="110.0" cy="346.5" rx="1.6" ry="0.8" transform="rotate(89 110.0 346.5)" fill="#b4bec4"/>
    <ellipse cx="108.1" cy="347.3" rx="1.5" ry="0.6" transform="rotate(55 108.1 347.3)" fill="#b4bec4"/>
    <ellipse cx="101.5" cy="327.4" rx="1.6" ry="0.9" transform="rotate(146 101.5 327.4)" fill="#b4bec4"/>
    <ellipse cx="112.2" cy="325.9" rx="1.3" ry="0.9" transform="rotate(24 112.2 325.9)" fill="#8d99a1"/>
    <ellipse cx="105.2" cy="347.3" rx="1.8" ry="1.3" transform="rotate(103 105.2 347.3)" fill="#8d99a1"/>
    <ellipse cx="96.7" cy="347.4" rx="1.8" ry="1.3" transform="rotate(129 96.7 347.4)" fill="#8d99a1"/>
    <ellipse cx="110.4" cy="330.9" rx="1.5" ry="0.7" transform="rotate(52 110.4 330.9)" fill="#7f8c95"/>
    <ellipse cx="104.0" cy="327.5" rx="0.8" ry="0.6" transform="rotate(4 104.0 327.5)" fill="#c3cbd0"/>
    <ellipse cx="106.1" cy="342.7" rx="0.9" ry="0.7" transform="rotate(4 106.1 342.7)" fill="#7f8c95"/>
    <ellipse cx="104.6" cy="329.7" rx="1.6" ry="1.1" transform="rotate(94 104.6 329.7)" fill="#d0d6da"/>
    <ellipse cx="115.5" cy="344.7" rx="1.5" ry="1.0" transform="rotate(84 115.5 344.7)" fill="#7f8c95"/>
    <ellipse cx="105.4" cy="332.2" rx="0.9" ry="0.7" transform="rotate(107 105.4 332.2)" fill="#b4bec4"/>
    <ellipse cx="111.5" cy="345.3" rx="1.5" ry="0.9" transform="rotate(169 111.5 345.3)" fill="#7f8c95"/>
    <ellipse cx="93.8" cy="342.9" rx="1.3" ry="0.7" transform="rotate(140 93.8 342.9)" fill="#7f8c95"/>
    </g>
    <clipPath id="st4"><circle cx="103.9" cy="382.8" r="14"/></clipPath>
    <g clip-path="url(#st4)"><circle cx="103.9" cy="382.8" r="14" fill="#777777"/>
    <ellipse cx="104.4" cy="390.9" rx="2.4" ry="1.8" transform="rotate(147 104.4 390.9)" fill="#818181"/>
    <ellipse cx="113.4" cy="386.1" rx="3.4" ry="2.3" transform="rotate(157 113.4 386.1)" fill="#858585"/>
    <ellipse cx="108.5" cy="383.1" rx="1.9" ry="0.8" transform="rotate(91 108.5 383.1)" fill="#6a6a6a"/>
    <ellipse cx="112.7" cy="393.4" rx="3.1" ry="2.3" transform="rotate(146 112.7 393.4)" fill="#858585"/>
    <ellipse cx="105.8" cy="381.1" rx="2.8" ry="2.0" transform="rotate(113 105.8 381.1)" fill="#6e6e6e"/>
    <ellipse cx="108.2" cy="383.8" rx="1.7" ry="0.9" transform="rotate(171 108.2 383.8)" fill="#6a6a6a"/>
    <ellipse cx="100.1" cy="393.4" rx="1.7" ry="1.1" transform="rotate(15 100.1 393.4)" fill="#818181"/>
    <ellipse cx="112.3" cy="378.9" rx="2.5" ry="1.3" transform="rotate(104 112.3 378.9)" fill="#818181"/>
    <ellipse cx="102.8" cy="370.8" rx="2.1" ry="1.0" transform="rotate(117 102.8 370.8)" fill="#6a6a6a"/>
    <ellipse cx="101.6" cy="373.6" rx="2.6" ry="1.1" transform="rotate(147 101.6 373.6)" fill="#818181"/>
    <ellipse cx="100.8" cy="388.1" rx="2.6" ry="1.4" transform="rotate(2 100.8 388.1)" fill="#818181"/>
    <ellipse cx="108.3" cy="377.6" rx="2.6" ry="1.3" transform="rotate(158 108.3 377.6)" fill="#6e6e6e"/>
    <ellipse cx="105.8" cy="383.5" rx="2.6" ry="1.1" transform="rotate(79 105.8 383.5)" fill="#818181"/>
    <ellipse cx="96.8" cy="388.8" rx="3.0" ry="2.0" transform="rotate(178 96.8 388.8)" fill="#6a6a6a"/>
    <ellipse cx="112.2" cy="379.2" rx="2.8" ry="2.1" transform="rotate(111 112.2 379.2)" fill="#6a6a6a"/>
    <ellipse cx="108.3" cy="373.7" rx="3.0" ry="1.9" transform="rotate(48 108.3 373.7)" fill="#818181"/>
    <ellipse cx="96.0" cy="374.1" rx="2.3" ry="1.5" transform="rotate(138 96.0 374.1)" fill="#6e6e6e"/>
    <ellipse cx="90.2" cy="383.0" rx="2.6" ry="1.7" transform="rotate(157 90.2 383.0)" fill="#6e6e6e"/>
    <ellipse cx="97.1" cy="389.3" rx="2.4" ry="1.5" transform="rotate(64 97.1 389.3)" fill="#818181"/>
    <ellipse cx="94.6" cy="376.4" rx="1.5" ry="0.8" transform="rotate(69 94.6 376.4)" fill="#818181"/>
    <ellipse cx="91.7" cy="379.9" rx="2.4" ry="1.8" transform="rotate(16 91.7 379.9)" fill="#6a6a6a"/>
    <ellipse cx="98.1" cy="394.3" rx="3.2" ry="2.4" transform="rotate(175 98.1 394.3)" fill="#858585"/>
    <ellipse cx="106.1" cy="382.2" rx="2.0" ry="1.4" transform="rotate(166 106.1 382.2)" fill="#818181"/>
    <ellipse cx="90.3" cy="379.4" rx="2.5" ry="1.4" transform="rotate(70 90.3 379.4)" fill="#818181"/>
    <ellipse cx="97.0" cy="378.1" rx="3.4" ry="1.9" transform="rotate(18 97.0 378.1)" fill="#858585"/>
    <ellipse cx="95.4" cy="388.9" rx="2.6" ry="1.5" transform="rotate(88 95.4 388.9)" fill="#818181"/>
    <ellipse cx="94.0" cy="372.9" rx="2.2" ry="1.2" transform="rotate(31 94.0 372.9)" fill="#858585"/>
    <ellipse cx="116.5" cy="381.1" rx="2.5" ry="1.8" transform="rotate(124 116.5 381.1)" fill="#6e6e6e"/>
    <ellipse cx="117.1" cy="382.0" rx="2.3" ry="1.1" transform="rotate(147 117.1 382.0)" fill="#6e6e6e"/>
    <ellipse cx="110.9" cy="377.2" rx="1.6" ry="1.3" transform="rotate(64 110.9 377.2)" fill="#858585"/>
    <ellipse cx="102.0" cy="380.6" rx="2.3" ry="1.4" transform="rotate(128 102.0 380.6)" fill="#818181"/>
    <ellipse cx="111.6" cy="378.4" rx="1.7" ry="1.0" transform="rotate(35 111.6 378.4)" fill="#6a6a6a"/>
    <ellipse cx="97.1" cy="380.4" rx="2.8" ry="1.6" transform="rotate(103 97.1 380.4)" fill="#858585"/>
    <ellipse cx="107.9" cy="386.6" rx="3.0" ry="2.4" transform="rotate(14 107.9 386.6)" fill="#6a6a6a"/>
    <ellipse cx="94.3" cy="383.4" rx="2.4" ry="1.5" transform="rotate(123 94.3 383.4)" fill="#858585"/>
    <ellipse cx="108.1" cy="388.2" rx="2.1" ry="1.6" transform="rotate(155 108.1 388.2)" fill="#6a6a6a"/>
    <ellipse cx="109.6" cy="385.2" rx="2.7" ry="1.7" transform="rotate(160 109.6 385.2)" fill="#6a6a6a"/>
    <ellipse cx="112.9" cy="380.5" rx="2.7" ry="1.7" transform="rotate(29 112.9 380.5)" fill="#6a6a6a"/>
    <ellipse cx="104.4" cy="383.8" rx="3.2" ry="2.5" transform="rotate(108 104.4 383.8)" fill="#6e6e6e"/>
    <ellipse cx="90.3" cy="383.2" rx="2.0" ry="1.1" transform="rotate(74 90.3 383.2)" fill="#6a6a6a"/>
    </g>
</svg>
<div class="t" style="left:51.8px;top:80.5px;font-size:15px;color:#222;-webkit-text-stroke:0.4px #222;">给料仓</div>
<div class="t lbl" style="left:270.5px;top:147.6px;transform:scaleX(1.03);">ZSW380×95给料机</div>
<div class="t lbl" style="left:530.8px;top:147.4px;transform:scaleX(1.03);">PE69鄂破机</div>
<div class="t lbl" style="left:273.8px;top:391px;transform:scaleX(1.02);">3YK1854圆振动筛</div>
<div class="t lbl" style="left:524.4px;top:391.5px;transform:scaleX(1.025);">PF1214反击破</div>
<div class="t sz" style="left:28.5px;top:242.3px;transform:scaleX(1.13);">20-30mm</div>
<div class="t sz" style="left:28px;top:286.8px;transform:scaleX(1.145);">10-20mm</div>
<div class="t sz" style="left:28px;top:332.3px;transform:scaleX(1.16);">5-10mm</div>
<div class="t sz" style="left:28px;top:377.3px;transform:scaleX(1.08);">5mm以下</div>
</body></html>
